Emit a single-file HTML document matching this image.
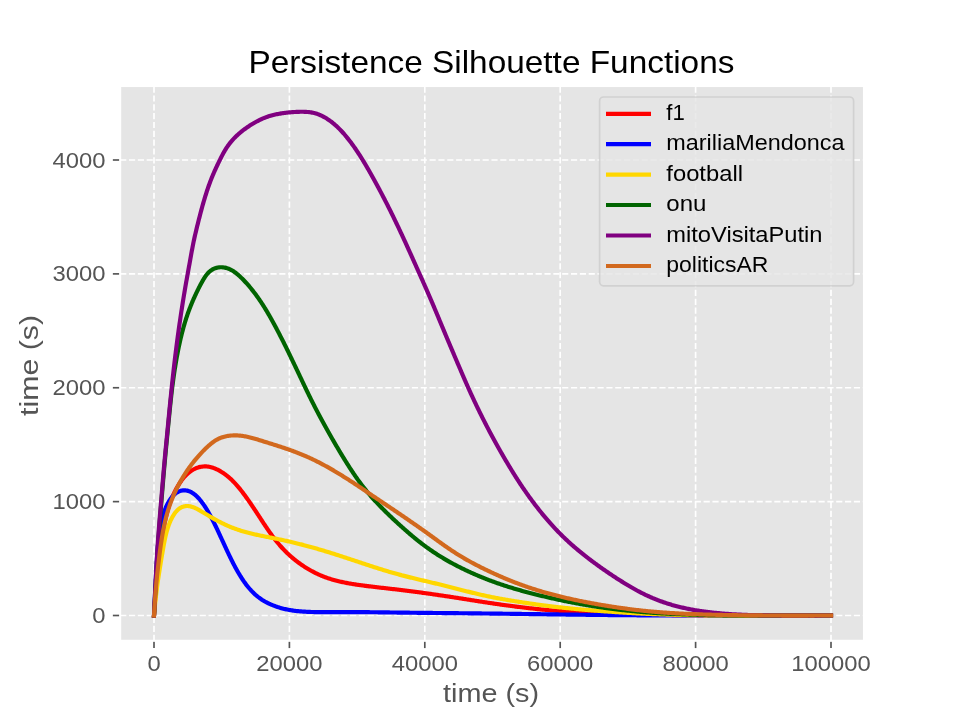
<!DOCTYPE html>
<html><head><meta charset="utf-8"><style>
html,body{margin:0;padding:0;background:#fff;}
svg{display:block;will-change:transform;}
text{font-family:"Liberation Sans", sans-serif;}
</style></head><body>
<svg width="961" height="721" viewBox="0 0 961 721">
<defs><clipPath id="ax"><rect x="120.15" y="86.0" width="743.85" height="554.80"/></clipPath></defs>
<rect x="0" y="0" width="961" height="721" fill="#fff"/>
<rect x="120.15" y="86.0" width="743.85" height="554.80" fill="#E5E5E5"/>

<g stroke="#fff" stroke-width="1.67" stroke-dasharray="6.17 2.67" clip-path="url(#ax)"><line x1="154.00" y1="640.8" x2="154.00" y2="86.0"/><line x1="289.40" y1="640.8" x2="289.40" y2="86.0"/><line x1="424.80" y1="640.8" x2="424.80" y2="86.0"/><line x1="560.20" y1="640.8" x2="560.20" y2="86.0"/><line x1="695.60" y1="640.8" x2="695.60" y2="86.0"/><line x1="831.00" y1="640.8" x2="831.00" y2="86.0"/><line x1="120.15" y1="615.50" x2="864.0" y2="615.50"/><line x1="120.15" y1="501.62" x2="864.0" y2="501.62"/><line x1="120.15" y1="387.75" x2="864.0" y2="387.75"/><line x1="120.15" y1="273.88" x2="864.0" y2="273.88"/><line x1="120.15" y1="160.00" x2="864.0" y2="160.00"/></g>
<g clip-path="url(#ax)" fill="none" stroke-width="4.17" stroke-linejoin="round" stroke-linecap="square">
<path stroke="#FF0000" d="M154.00,615.50 L154.07,614.50 L154.14,613.51 L154.21,612.51 L154.28,611.52 L154.35,610.52 L154.42,609.52 L154.49,608.53 L154.56,607.53 L154.63,606.54 L154.70,605.54 L154.77,604.54 L154.85,603.55 L154.92,602.55 L154.99,601.56 L155.07,600.56 L155.15,599.57 L155.22,598.57 L155.30,597.57 L155.38,596.58 L155.46,595.58 L155.54,594.59 L155.63,593.59 L155.71,592.60 L155.79,591.60 L155.88,590.61 L155.97,589.61 L156.06,588.62 L156.15,587.62 L156.24,586.63 L156.33,585.63 L156.42,584.64 L156.52,583.64 L156.61,582.65 L156.71,581.65 L156.81,580.66 L156.91,579.66 L157.01,578.67 L157.11,577.68 L157.21,576.68 L157.31,575.69 L157.42,574.69 L157.52,573.70 L157.63,572.70 L157.74,571.71 L157.85,570.71 L157.95,569.72 L158.06,568.72 L158.18,567.73 L158.29,566.73 L158.40,565.74 L158.51,564.74 L158.63,563.75 L158.74,562.75 L158.86,561.76 L158.97,560.76 L159.09,559.77 L159.21,558.77 L159.33,557.78 L159.45,556.78 L159.57,555.78 L159.69,554.79 L159.82,553.79 L159.94,552.80 L160.06,551.80 L160.19,550.81 L160.32,549.81 L160.45,548.81 L160.58,547.82 L160.71,546.82 L160.84,545.83 L160.97,544.83 L161.11,543.83 L161.25,542.84 L161.39,541.84 L161.53,540.85 L161.67,539.85 L161.82,538.86 L161.96,537.87 L162.11,536.87 L162.27,535.88 L162.42,534.89 L162.58,533.89 L162.74,532.90 L162.91,531.91 L163.07,530.92 L163.25,529.93 L163.42,528.94 L163.60,527.95 L163.78,526.96 L163.97,525.97 L164.16,524.99 L164.35,524.00 L164.55,523.02 L164.76,522.04 L164.97,521.05 L165.18,520.07 L165.40,519.10 L165.63,518.12 L165.86,517.14 L166.09,516.17 L166.33,515.20 L166.58,514.23 L166.84,513.26 L167.10,512.29 L167.36,511.33 L167.64,510.36 L167.92,509.40 L168.21,508.45 L168.50,507.49 L168.80,506.54 L169.11,505.59 L169.43,504.64 L169.75,503.70 L170.09,502.76 L170.43,501.82 L170.78,500.88 L171.13,499.95 L171.50,499.02 L171.87,498.10 L172.25,497.18 L172.65,496.26 L173.05,495.35 L173.46,494.44 L173.88,493.54 L174.31,492.64 L174.75,491.75 L175.19,490.86 L175.65,489.98 L176.12,489.10 L176.60,488.23 L177.10,487.36 L177.60,486.50 L178.11,485.64 L178.64,484.80 L179.17,483.95 L179.72,483.12 L180.28,482.29 L180.86,481.47 L181.44,480.66 L182.04,479.86 L182.66,479.06 L183.29,478.28 L183.93,477.51 L184.59,476.75 L185.26,476.01 L185.95,475.29 L186.66,474.58 L187.39,473.89 L188.14,473.23 L188.90,472.58 L189.69,471.96 L190.49,471.37 L191.31,470.80 L192.14,470.25 L192.99,469.74 L193.86,469.26 L194.75,468.81 L195.65,468.40 L196.56,468.02 L197.49,467.67 L198.43,467.37 L199.37,467.11 L200.33,466.88 L201.30,466.70 L202.27,466.57 L203.25,466.47 L204.23,466.42 L205.21,466.41 L206.19,466.45 L207.18,466.52 L208.15,466.64 L209.13,466.80 L210.10,467.00 L211.06,467.23 L212.02,467.50 L212.97,467.81 L213.91,468.14 L214.85,468.50 L215.77,468.88 L216.68,469.30 L217.59,469.73 L218.48,470.18 L219.36,470.66 L220.24,471.15 L221.10,471.67 L221.95,472.20 L222.80,472.74 L223.63,473.30 L224.45,473.88 L225.26,474.46 L226.06,475.07 L226.85,475.68 L227.62,476.31 L228.39,476.95 L229.15,477.59 L229.89,478.25 L230.63,478.92 L231.35,479.60 L232.07,480.29 L232.78,480.99 L233.48,481.70 L234.17,482.41 L234.85,483.14 L235.53,483.87 L236.20,484.61 L236.86,485.35 L237.51,486.10 L238.16,486.86 L238.80,487.62 L239.44,488.39 L240.07,489.17 L240.70,489.95 L241.32,490.73 L241.93,491.52 L242.54,492.32 L243.15,493.11 L243.75,493.91 L244.35,494.72 L244.94,495.53 L245.53,496.34 L246.12,497.15 L246.70,497.97 L247.29,498.78 L247.86,499.60 L248.44,500.43 L249.02,501.25 L249.59,502.08 L250.16,502.91 L250.72,503.74 L251.29,504.57 L251.85,505.40 L252.41,506.23 L252.97,507.07 L253.53,507.90 L254.09,508.74 L254.65,509.58 L255.20,510.41 L255.75,511.25 L256.30,512.09 L256.85,512.93 L257.40,513.77 L257.95,514.62 L258.50,515.46 L259.05,516.30 L259.60,517.14 L260.15,517.98 L260.69,518.82 L261.24,519.66 L261.79,520.50 L262.34,521.34 L262.89,522.18 L263.44,523.02 L263.99,523.86 L264.54,524.70 L265.10,525.53 L265.65,526.36 L266.21,527.20 L266.77,528.03 L267.33,528.85 L267.90,529.68 L268.47,530.50 L269.04,531.33 L269.61,532.14 L270.19,532.96 L270.77,533.77 L271.36,534.58 L271.94,535.39 L272.54,536.19 L273.13,536.99 L273.73,537.79 L274.34,538.58 L274.95,539.37 L275.56,540.15 L276.18,540.93 L276.81,541.71 L277.43,542.48 L278.07,543.25 L278.71,544.01 L279.35,544.76 L280.00,545.52 L280.66,546.26 L281.32,547.00 L281.99,547.74 L282.66,548.47 L283.34,549.19 L284.02,549.91 L284.72,550.63 L285.41,551.33 L286.11,552.03 L286.82,552.73 L287.54,553.42 L288.26,554.10 L288.99,554.77 L289.72,555.44 L290.46,556.11 L291.21,556.76 L291.96,557.41 L292.72,558.06 L293.48,558.69 L294.25,559.32 L295.02,559.95 L295.80,560.56 L296.59,561.17 L297.38,561.78 L298.18,562.37 L298.98,562.96 L299.79,563.55 L300.61,564.13 L301.43,564.70 L302.25,565.26 L303.08,565.82 L303.91,566.37 L304.75,566.91 L305.59,567.45 L306.44,567.98 L307.29,568.50 L308.14,569.01 L309.01,569.52 L309.87,570.02 L310.74,570.51 L311.62,570.99 L312.50,571.46 L313.38,571.93 L314.27,572.39 L315.16,572.84 L316.06,573.28 L316.96,573.71 L317.86,574.13 L318.77,574.54 L319.68,574.95 L320.60,575.34 L321.52,575.73 L322.44,576.11 L323.37,576.48 L324.30,576.84 L325.23,577.19 L326.17,577.54 L327.11,577.87 L328.05,578.20 L329.00,578.51 L329.95,578.82 L330.90,579.12 L331.86,579.41 L332.81,579.69 L333.77,579.97 L334.73,580.23 L335.70,580.49 L336.66,580.75 L337.63,580.99 L338.60,581.23 L339.57,581.46 L340.54,581.68 L341.51,581.90 L342.49,582.12 L343.46,582.32 L344.44,582.52 L345.42,582.72 L346.40,582.91 L347.38,583.10 L348.36,583.28 L349.34,583.46 L350.32,583.63 L351.31,583.80 L352.29,583.96 L353.28,584.12 L354.27,584.28 L355.25,584.43 L356.24,584.58 L357.23,584.73 L358.22,584.87 L359.21,585.02 L360.20,585.15 L361.19,585.29 L362.18,585.42 L363.17,585.56 L364.16,585.69 L365.15,585.81 L366.14,585.94 L367.14,586.06 L368.13,586.19 L369.12,586.31 L370.12,586.43 L371.11,586.55 L372.10,586.67 L373.10,586.79 L374.09,586.90 L375.08,587.02 L376.08,587.13 L377.07,587.25 L378.07,587.36 L379.06,587.48 L380.05,587.59 L381.05,587.70 L382.04,587.82 L383.04,587.93 L384.03,588.04 L385.02,588.16 L386.02,588.27 L387.01,588.38 L388.01,588.50 L389.00,588.61 L389.99,588.72 L390.99,588.84 L391.98,588.95 L392.98,589.07 L393.97,589.18 L394.96,589.30 L395.96,589.42 L396.95,589.53 L397.94,589.65 L398.93,589.77 L399.93,589.89 L400.92,590.01 L401.91,590.13 L402.91,590.25 L403.90,590.37 L404.89,590.49 L405.88,590.61 L406.87,590.74 L407.87,590.86 L408.86,590.98 L409.85,591.11 L410.84,591.24 L411.83,591.36 L412.82,591.49 L413.81,591.62 L414.80,591.75 L415.79,591.88 L416.79,592.01 L417.78,592.14 L418.77,592.28 L419.76,592.41 L420.75,592.54 L421.74,592.68 L422.73,592.81 L423.72,592.95 L424.71,593.09 L425.69,593.23 L426.68,593.36 L427.67,593.50 L428.66,593.64 L429.65,593.78 L430.64,593.92 L431.63,594.06 L432.62,594.21 L433.61,594.35 L434.60,594.49 L435.58,594.63 L436.57,594.78 L437.56,594.92 L438.55,595.07 L439.54,595.21 L440.53,595.36 L441.51,595.50 L442.50,595.65 L443.49,595.79 L444.48,595.94 L445.47,596.09 L446.45,596.24 L447.44,596.39 L448.43,596.53 L449.42,596.68 L450.40,596.83 L451.39,596.98 L452.38,597.13 L453.37,597.29 L454.35,597.44 L455.34,597.59 L456.33,597.74 L457.32,597.90 L458.30,598.05 L459.29,598.21 L460.28,598.36 L461.26,598.52 L462.25,598.67 L463.24,598.83 L464.22,598.98 L465.21,599.14 L466.20,599.30 L467.18,599.45 L468.17,599.61 L469.16,599.77 L470.14,599.92 L471.13,600.08 L472.12,600.24 L473.10,600.39 L474.09,600.55 L475.08,600.71 L476.06,600.86 L477.05,601.02 L478.04,601.17 L479.02,601.33 L480.01,601.48 L481.00,601.64 L481.98,601.79 L482.97,601.94 L483.96,602.09 L484.95,602.25 L485.93,602.40 L486.92,602.55 L487.91,602.70 L488.90,602.85 L489.88,602.99 L490.87,603.14 L491.86,603.29 L492.85,603.43 L493.84,603.58 L494.83,603.72 L495.82,603.87 L496.80,604.01 L497.79,604.15 L498.78,604.29 L499.77,604.43 L500.76,604.57 L501.75,604.71 L502.74,604.85 L503.73,604.98 L504.72,605.12 L505.71,605.26 L506.70,605.39 L507.69,605.52 L508.68,605.65 L509.67,605.79 L510.66,605.92 L511.65,606.05 L512.64,606.18 L513.63,606.30 L514.62,606.43 L515.61,606.56 L516.60,606.68 L517.60,606.81 L518.59,606.93 L519.58,607.05 L520.57,607.17 L521.56,607.29 L522.55,607.41 L523.55,607.53 L524.54,607.65 L525.53,607.76 L526.52,607.88 L527.52,607.99 L528.51,608.11 L529.50,608.22 L530.49,608.33 L531.49,608.44 L532.48,608.55 L533.47,608.66 L534.47,608.76 L535.46,608.87 L536.45,608.97 L537.45,609.08 L538.44,609.18 L539.43,609.28 L540.43,609.38 L541.42,609.48 L542.42,609.57 L543.41,609.67 L544.40,609.77 L545.40,609.86 L546.39,609.95 L547.39,610.04 L548.38,610.13 L549.38,610.22 L550.37,610.31 L551.37,610.40 L552.36,610.48 L553.36,610.56 L554.36,610.65 L555.35,610.73 L556.35,610.81 L557.34,610.89 L558.34,610.96 L559.33,611.04 L560.33,611.11 L561.33,611.19 L562.32,611.26 L563.32,611.33 L564.32,611.40 L565.31,611.47 L566.31,611.54 L567.31,611.61 L568.30,611.67 L569.30,611.73 L570.30,611.80 L571.29,611.86 L572.29,611.92 L573.29,611.98 L574.28,612.04 L575.28,612.10 L576.28,612.16 L577.28,612.21 L578.27,612.27 L579.27,612.32 L580.27,612.38 L581.27,612.43 L582.26,612.48 L583.26,612.53 L584.26,612.58 L585.26,612.63 L586.26,612.68 L587.25,612.73 L588.25,612.77 L589.25,612.82 L590.25,612.87 L591.25,612.91 L592.24,612.95 L593.24,613.00 L594.24,613.04 L595.24,613.08 L596.24,613.13 L597.24,613.17 L598.23,613.21 L599.23,613.25 L600.23,613.29 L601.23,613.33 L602.23,613.37 L603.23,613.40 L604.22,613.44 L605.22,613.48 L606.22,613.52 L607.22,613.55 L608.22,613.59 L609.22,613.62 L610.22,613.66 L611.21,613.69 L612.21,613.73 L613.21,613.76 L614.21,613.79 L615.21,613.82 L616.21,613.86 L617.21,613.89 L618.20,613.92 L619.20,613.95 L620.20,613.98 L621.20,614.01 L622.20,614.04 L623.20,614.07 L624.20,614.10 L625.20,614.13 L626.19,614.15 L627.19,614.18 L628.19,614.21 L629.19,614.23 L630.19,614.26 L631.19,614.29 L632.19,614.31 L633.19,614.34 L634.19,614.36 L635.18,614.39 L636.18,614.41 L637.18,614.43 L638.18,614.46 L639.18,614.48 L640.18,614.50 L641.18,614.52 L642.18,614.55 L643.18,614.57 L644.17,614.59 L645.17,614.61 L646.17,614.63 L647.17,614.65 L648.17,614.67 L649.17,614.69 L650.17,614.71 L651.17,614.72 L652.17,614.74 L653.16,614.76 L654.16,614.78 L655.16,614.80 L656.16,614.81 L657.16,614.83 L658.16,614.85 L659.16,614.86 L660.16,614.88 L661.16,614.89 L662.16,614.91 L663.15,614.92 L664.15,614.94 L665.15,614.95 L666.15,614.97 L667.15,614.98 L668.15,614.99 L669.15,615.01 L670.15,615.02 L671.15,615.03 L672.15,615.05 L673.14,615.06 L674.14,615.07 L675.14,615.08 L676.14,615.09 L677.14,615.11 L678.14,615.12 L679.14,615.13 L680.14,615.14 L681.14,615.15 L682.14,615.16 L683.14,615.17 L684.13,615.18 L685.13,615.19 L686.13,615.20 L687.13,615.21 L688.13,615.22 L689.13,615.23 L690.13,615.24 L691.13,615.24 L692.13,615.25 L693.13,615.26 L694.12,615.27 L695.12,615.28 L696.12,615.28 L697.12,615.29 L698.12,615.30 L699.12,615.31 L700.12,615.32 L701.12,615.32 L702.12,615.33 L703.12,615.34 L704.12,615.34 L705.11,615.35 L706.11,615.36 L707.11,615.36 L708.11,615.37 L709.11,615.38 L710.11,615.38 L711.11,615.39 L712.11,615.39 L713.11,615.40 L714.11,615.40 L715.11,615.41 L716.10,615.41 L717.10,615.42 L718.10,615.42 L719.10,615.43 L720.10,615.43 L721.10,615.44 L722.10,615.44 L723.10,615.45 L724.10,615.45 L725.10,615.46 L726.10,615.46 L727.09,615.47 L728.09,615.47 L729.09,615.47 L730.09,615.48 L731.09,615.48 L732.09,615.48 L733.09,615.49 L734.09,615.49 L735.09,615.49 L736.09,615.50 L737.09,615.50 L738.08,615.50 L739.08,615.51 L740.08,615.51 L741.08,615.51 L742.08,615.51 L743.08,615.52 L744.08,615.52 L745.08,615.52 L746.08,615.52 L747.08,615.53 L748.08,615.53 L749.07,615.53 L750.07,615.53 L751.07,615.53 L752.07,615.54 L753.07,615.54 L754.07,615.54 L755.07,615.54 L756.07,615.54 L757.07,615.54 L758.07,615.54 L759.07,615.55 L760.06,615.55 L761.06,615.55 L762.06,615.55 L763.06,615.55 L764.06,615.55 L765.06,615.55 L766.06,615.55 L767.06,615.55 L768.06,615.55 L769.06,615.55 L770.06,615.55 L771.05,615.55 L772.05,615.55 L773.05,615.55 L774.05,615.55 L775.05,615.55 L776.05,615.55 L777.05,615.55 L778.05,615.55 L779.05,615.55 L780.05,615.55 L781.05,615.55 L782.04,615.55 L783.04,615.55 L784.04,615.55 L785.04,615.55 L786.04,615.55 L787.04,615.55 L788.04,615.55 L789.04,615.55 L790.04,615.55 L791.04,615.55 L792.04,615.55 L793.03,615.55 L794.03,615.55 L795.03,615.55 L796.03,615.55 L797.03,615.54 L798.03,615.54 L799.03,615.54 L800.03,615.54 L801.03,615.54 L802.03,615.54 L803.03,615.54 L804.02,615.54 L805.02,615.54 L806.02,615.54 L807.02,615.53 L808.02,615.53 L809.02,615.53 L810.02,615.53 L811.02,615.53 L812.02,615.53 L813.02,615.53 L814.02,615.52 L815.01,615.52 L816.01,615.52 L817.01,615.52 L818.01,615.52 L819.01,615.52 L820.01,615.52 L821.01,615.51 L822.01,615.51 L823.01,615.51 L824.01,615.51 L825.01,615.51 L826.00,615.51 L827.00,615.51 L828.00,615.50 L829.00,615.50 L830.00,615.50 L831.00,615.50"/>
<path stroke="#0000FF" d="M154.00,615.50 L154.05,614.50 L154.10,613.50 L154.15,612.50 L154.19,611.51 L154.24,610.51 L154.29,609.51 L154.34,608.51 L154.39,607.51 L154.44,606.51 L154.49,605.51 L154.53,604.52 L154.58,603.52 L154.63,602.52 L154.68,601.52 L154.73,600.52 L154.78,599.52 L154.83,598.52 L154.88,597.52 L154.93,596.53 L154.98,595.53 L155.03,594.53 L155.07,593.53 L155.12,592.53 L155.17,591.53 L155.22,590.53 L155.27,589.53 L155.32,588.53 L155.37,587.53 L155.42,586.53 L155.47,585.53 L155.53,584.53 L155.58,583.54 L155.63,582.54 L155.68,581.54 L155.73,580.54 L155.78,579.54 L155.83,578.54 L155.89,577.54 L155.94,576.54 L155.99,575.54 L156.04,574.54 L156.10,573.54 L156.15,572.54 L156.21,571.54 L156.26,570.53 L156.32,569.53 L156.37,568.53 L156.43,567.53 L156.48,566.53 L156.54,565.53 L156.60,564.53 L156.65,563.53 L156.71,562.53 L156.77,561.53 L156.83,560.53 L156.90,559.53 L156.96,558.53 L157.02,557.53 L157.09,556.53 L157.16,555.53 L157.23,554.53 L157.30,553.53 L157.37,552.53 L157.44,551.53 L157.52,550.53 L157.60,549.53 L157.68,548.53 L157.76,547.53 L157.85,546.53 L157.93,545.54 L158.02,544.54 L158.12,543.54 L158.21,542.54 L158.31,541.55 L158.42,540.55 L158.52,539.56 L158.63,538.56 L158.75,537.57 L158.87,536.57 L158.99,535.58 L159.12,534.59 L159.26,533.60 L159.40,532.61 L159.55,531.62 L159.70,530.63 L159.86,529.64 L160.02,528.65 L160.19,527.67 L160.37,526.68 L160.55,525.70 L160.75,524.72 L160.95,523.74 L161.16,522.76 L161.37,521.78 L161.60,520.81 L161.84,519.83 L162.08,518.86 L162.34,517.89 L162.60,516.92 L162.88,515.96 L163.16,514.99 L163.46,514.03 L163.77,513.07 L164.10,512.12 L164.43,511.16 L164.78,510.21 L165.14,509.26 L165.52,508.32 L165.91,507.38 L166.31,506.44 L166.73,505.52 L167.17,504.60 L167.63,503.69 L168.11,502.79 L168.61,501.90 L169.12,501.02 L169.66,500.16 L170.23,499.32 L170.81,498.49 L171.42,497.68 L172.05,496.89 L172.71,496.13 L173.39,495.41 L174.10,494.71 L174.84,494.06 L175.60,493.44 L176.39,492.87 L177.20,492.35 L178.04,491.88 L178.90,491.46 L179.78,491.11 L180.68,490.82 L181.60,490.59 L182.52,490.43 L183.46,490.33 L184.39,490.31 L185.33,490.35 L186.27,490.46 L187.20,490.64 L188.12,490.88 L189.03,491.18 L189.92,491.54 L190.80,491.95 L191.66,492.42 L192.50,492.93 L193.33,493.48 L194.13,494.07 L194.92,494.70 L195.68,495.35 L196.43,496.03 L197.16,496.73 L197.87,497.46 L198.57,498.20 L199.24,498.96 L199.91,499.74 L200.55,500.53 L201.19,501.32 L201.80,502.13 L202.41,502.95 L203.00,503.77 L203.58,504.60 L204.16,505.44 L204.72,506.28 L205.27,507.13 L205.81,507.98 L206.35,508.84 L206.88,509.70 L207.40,510.56 L207.91,511.42 L208.42,512.29 L208.92,513.17 L209.41,514.04 L209.90,514.92 L210.38,515.80 L210.85,516.68 L211.33,517.56 L211.79,518.45 L212.26,519.34 L212.71,520.23 L213.17,521.12 L213.62,522.02 L214.07,522.92 L214.51,523.81 L214.95,524.71 L215.39,525.61 L215.83,526.52 L216.26,527.42 L216.69,528.32 L217.12,529.23 L217.55,530.14 L217.98,531.05 L218.40,531.95 L218.82,532.86 L219.25,533.77 L219.67,534.68 L220.09,535.60 L220.51,536.51 L220.93,537.42 L221.35,538.33 L221.77,539.25 L222.19,540.16 L222.61,541.07 L223.03,541.99 L223.45,542.90 L223.87,543.82 L224.29,544.73 L224.71,545.65 L225.13,546.56 L225.56,547.47 L225.98,548.39 L226.41,549.30 L226.83,550.22 L227.26,551.13 L227.69,552.04 L228.12,552.96 L228.56,553.87 L228.99,554.78 L229.43,555.69 L229.87,556.60 L230.31,557.51 L230.76,558.41 L231.20,559.32 L231.65,560.23 L232.10,561.13 L232.56,562.03 L233.02,562.93 L233.48,563.83 L233.95,564.73 L234.42,565.62 L234.89,566.51 L235.37,567.40 L235.85,568.29 L236.34,569.17 L236.83,570.05 L237.32,570.93 L237.82,571.81 L238.33,572.68 L238.84,573.55 L239.36,574.41 L239.88,575.27 L240.41,576.12 L240.94,576.97 L241.48,577.82 L242.03,578.66 L242.58,579.49 L243.14,580.32 L243.70,581.15 L244.28,581.96 L244.86,582.78 L245.44,583.58 L246.04,584.38 L246.64,585.17 L247.25,585.95 L247.87,586.72 L248.50,587.49 L249.14,588.24 L249.78,588.99 L250.44,589.73 L251.10,590.46 L251.78,591.17 L252.46,591.88 L253.16,592.58 L253.86,593.26 L254.58,593.94 L255.30,594.60 L256.04,595.24 L256.79,595.88 L257.54,596.50 L258.31,597.11 L259.10,597.70 L259.89,598.28 L260.69,598.85 L261.51,599.40 L262.33,599.94 L263.17,600.46 L264.01,600.97 L264.87,601.47 L265.73,601.95 L266.61,602.42 L267.49,602.87 L268.38,603.31 L269.27,603.74 L270.18,604.15 L271.09,604.55 L272.00,604.94 L272.93,605.32 L273.85,605.68 L274.79,606.03 L275.72,606.37 L276.67,606.70 L277.61,607.02 L278.56,607.32 L279.52,607.62 L280.48,607.90 L281.44,608.17 L282.40,608.43 L283.37,608.68 L284.34,608.91 L285.31,609.14 L286.29,609.36 L287.26,609.56 L288.24,609.75 L289.22,609.94 L290.20,610.11 L291.19,610.27 L292.17,610.42 L293.16,610.57 L294.15,610.70 L295.13,610.83 L296.12,610.95 L297.12,611.06 L298.11,611.16 L299.10,611.26 L300.09,611.35 L301.09,611.43 L302.09,611.51 L303.08,611.58 L304.08,611.64 L305.08,611.70 L306.07,611.76 L307.07,611.81 L308.07,611.86 L309.07,611.90 L310.07,611.93 L311.07,611.97 L312.07,612.00 L313.08,612.02 L314.08,612.05 L315.08,612.07 L316.08,612.08 L317.09,612.10 L318.09,612.11 L319.09,612.12 L320.10,612.13 L321.10,612.14 L322.10,612.14 L323.11,612.14 L324.11,612.15 L325.12,612.15 L326.12,612.15 L327.12,612.15 L328.13,612.15 L329.13,612.15 L330.14,612.15 L331.14,612.15 L332.14,612.15 L333.15,612.15 L334.15,612.14 L335.15,612.14 L336.16,612.14 L337.16,612.14 L338.17,612.14 L339.17,612.13 L340.17,612.13 L341.17,612.13 L342.18,612.13 L343.18,612.13 L344.18,612.13 L345.19,612.12 L346.19,612.12 L347.19,612.12 L348.20,612.12 L349.20,612.12 L350.20,612.12 L351.20,612.12 L352.21,612.12 L353.21,612.12 L354.21,612.12 L355.21,612.12 L356.21,612.13 L357.22,612.13 L358.22,612.13 L359.22,612.14 L360.22,612.14 L361.22,612.14 L362.22,612.15 L363.23,612.16 L364.23,612.16 L365.23,612.17 L366.23,612.18 L367.23,612.18 L368.23,612.19 L369.23,612.20 L370.23,612.21 L371.23,612.22 L372.23,612.23 L373.23,612.24 L374.23,612.25 L375.23,612.26 L376.24,612.27 L377.24,612.29 L378.24,612.30 L379.24,612.31 L380.24,612.32 L381.24,612.34 L382.24,612.35 L383.24,612.36 L384.24,612.37 L385.23,612.39 L386.23,612.40 L387.23,612.41 L388.23,612.43 L389.23,612.44 L390.23,612.46 L391.23,612.47 L392.23,612.48 L393.23,612.50 L394.23,612.51 L395.23,612.52 L396.23,612.54 L397.23,612.55 L398.23,612.57 L399.23,612.58 L400.23,612.59 L401.23,612.60 L402.23,612.62 L403.23,612.63 L404.23,612.64 L405.23,612.66 L406.22,612.67 L407.22,612.68 L408.22,612.69 L409.22,612.70 L410.22,612.72 L411.22,612.73 L412.22,612.74 L413.22,612.75 L414.22,612.76 L415.22,612.77 L416.22,612.78 L417.22,612.80 L418.22,612.81 L419.22,612.82 L420.22,612.83 L421.21,612.84 L422.21,612.85 L423.21,612.86 L424.21,612.87 L425.21,612.88 L426.21,612.89 L427.21,612.90 L428.21,612.91 L429.21,612.92 L430.21,612.93 L431.21,612.94 L432.21,612.95 L433.21,612.96 L434.21,612.97 L435.21,612.98 L436.20,612.99 L437.20,613.00 L438.20,613.01 L439.20,613.02 L440.20,613.03 L441.20,613.04 L442.20,613.05 L443.20,613.06 L444.20,613.07 L445.20,613.08 L446.20,613.09 L447.20,613.10 L448.20,613.11 L449.20,613.12 L450.20,613.12 L451.19,613.13 L452.19,613.14 L453.19,613.15 L454.19,613.16 L455.19,613.17 L456.19,613.18 L457.19,613.19 L458.19,613.20 L459.19,613.21 L460.19,613.22 L461.19,613.23 L462.19,613.24 L463.19,613.25 L464.19,613.26 L465.18,613.27 L466.18,613.28 L467.18,613.29 L468.18,613.30 L469.18,613.31 L470.18,613.32 L471.18,613.34 L472.18,613.35 L473.18,613.36 L474.18,613.37 L475.18,613.38 L476.18,613.39 L477.18,613.40 L478.18,613.41 L479.18,613.42 L480.18,613.43 L481.17,613.45 L482.17,613.46 L483.17,613.47 L484.17,613.48 L485.17,613.49 L486.17,613.50 L487.17,613.52 L488.17,613.53 L489.17,613.54 L490.17,613.55 L491.17,613.56 L492.17,613.58 L493.17,613.59 L494.17,613.60 L495.17,613.61 L496.17,613.62 L497.17,613.64 L498.16,613.65 L499.16,613.66 L500.16,613.67 L501.16,613.69 L502.16,613.70 L503.16,613.71 L504.16,613.73 L505.16,613.74 L506.16,613.75 L507.16,613.76 L508.16,613.78 L509.16,613.79 L510.16,613.80 L511.16,613.82 L512.16,613.83 L513.16,613.84 L514.16,613.85 L515.16,613.87 L516.15,613.88 L517.15,613.89 L518.15,613.91 L519.15,613.92 L520.15,613.93 L521.15,613.95 L522.15,613.96 L523.15,613.97 L524.15,613.99 L525.15,614.00 L526.15,614.01 L527.15,614.03 L528.15,614.04 L529.15,614.05 L530.15,614.07 L531.15,614.08 L532.15,614.09 L533.15,614.11 L534.14,614.12 L535.14,614.13 L536.14,614.15 L537.14,614.16 L538.14,614.17 L539.14,614.19 L540.14,614.20 L541.14,614.22 L542.14,614.23 L543.14,614.24 L544.14,614.26 L545.14,614.27 L546.14,614.28 L547.14,614.30 L548.14,614.31 L549.14,614.32 L550.14,614.34 L551.14,614.35 L552.14,614.36 L553.13,614.38 L554.13,614.39 L555.13,614.40 L556.13,614.42 L557.13,614.43 L558.13,614.44 L559.13,614.46 L560.13,614.47 L561.13,614.48 L562.13,614.50 L563.13,614.51 L564.13,614.52 L565.13,614.54 L566.13,614.55 L567.13,614.56 L568.13,614.58 L569.13,614.59 L570.13,614.60 L571.13,614.61 L572.12,614.63 L573.12,614.64 L574.12,614.65 L575.12,614.67 L576.12,614.68 L577.12,614.69 L578.12,614.70 L579.12,614.72 L580.12,614.73 L581.12,614.74 L582.12,614.75 L583.12,614.77 L584.12,614.78 L585.12,614.79 L586.12,614.80 L587.12,614.81 L588.12,614.83 L589.12,614.84 L590.12,614.85 L591.11,614.86 L592.11,614.87 L593.11,614.89 L594.11,614.90 L595.11,614.91 L596.11,614.92 L597.11,614.93 L598.11,614.94 L599.11,614.95 L600.11,614.96 L601.11,614.98 L602.11,614.99 L603.11,615.00 L604.11,615.01 L605.11,615.02 L606.11,615.03 L607.11,615.04 L608.11,615.05 L609.11,615.06 L610.10,615.07 L611.10,615.08 L612.10,615.09 L613.10,615.10 L614.10,615.11 L615.10,615.12 L616.10,615.13 L617.10,615.14 L618.10,615.15 L619.10,615.16 L620.10,615.16 L621.10,615.17 L622.10,615.18 L623.10,615.19 L624.10,615.20 L625.10,615.21 L626.10,615.22 L627.10,615.22 L628.10,615.23 L629.09,615.24 L630.09,615.25 L631.09,615.25 L632.09,615.26 L633.09,615.27 L634.09,615.28 L635.09,615.28 L636.09,615.29 L637.09,615.30 L638.09,615.30 L639.09,615.31 L640.09,615.32 L641.09,615.32 L642.09,615.33 L643.09,615.33 L644.09,615.34 L645.09,615.35 L646.09,615.35 L647.09,615.36 L648.09,615.36 L649.09,615.37 L650.08,615.37 L651.08,615.38 L652.08,615.38 L653.08,615.39 L654.08,615.39 L655.08,615.40 L656.08,615.40 L657.08,615.40 L658.08,615.41 L659.08,615.41 L660.08,615.42 L661.08,615.42 L662.08,615.42 L663.08,615.43 L664.08,615.43 L665.08,615.43 L666.08,615.44 L667.08,615.44 L668.08,615.44 L669.08,615.45 L670.08,615.45 L671.07,615.45 L672.07,615.46 L673.07,615.46 L674.07,615.46 L675.07,615.46 L676.07,615.47 L677.07,615.47 L678.07,615.47 L679.07,615.47 L680.07,615.47 L681.07,615.48 L682.07,615.48 L683.07,615.48 L684.07,615.48 L685.07,615.48 L686.07,615.49 L687.07,615.49 L688.07,615.49 L689.07,615.49 L690.07,615.49 L691.07,615.50 L692.06,615.50 L693.06,615.50 L694.06,615.50 L695.06,615.50 L696.06,615.50 L697.06,615.50 L698.06,615.51 L699.06,615.51 L700.06,615.51 L701.06,615.51 L702.06,615.51 L703.06,615.51 L704.06,615.51 L705.06,615.51 L706.06,615.51 L707.06,615.52 L708.06,615.52 L709.06,615.52 L710.06,615.52 L711.06,615.52 L712.06,615.52 L713.06,615.52 L714.05,615.52 L715.05,615.52 L716.05,615.52 L717.05,615.52 L718.05,615.53 L719.05,615.53 L720.05,615.53 L721.05,615.53 L722.05,615.53 L723.05,615.53 L724.05,615.53 L725.05,615.53 L726.05,615.53 L727.05,615.53 L728.05,615.53 L729.05,615.53 L730.05,615.53 L731.05,615.53 L732.05,615.53 L733.05,615.53 L734.05,615.53 L735.04,615.53 L736.04,615.53 L737.04,615.54 L738.04,615.54 L739.04,615.54 L740.04,615.54 L741.04,615.54 L742.04,615.54 L743.04,615.54 L744.04,615.54 L745.04,615.54 L746.04,615.54 L747.04,615.54 L748.04,615.54 L749.04,615.54 L750.04,615.54 L751.04,615.54 L752.04,615.54 L753.04,615.54 L754.04,615.54 L755.04,615.54 L756.03,615.54 L757.03,615.54 L758.03,615.54 L759.03,615.54 L760.03,615.54 L761.03,615.54 L762.03,615.54 L763.03,615.54 L764.03,615.54 L765.03,615.54 L766.03,615.54 L767.03,615.54 L768.03,615.54 L769.03,615.53 L770.03,615.53 L771.03,615.53 L772.03,615.53 L773.03,615.53 L774.03,615.53 L775.03,615.53 L776.03,615.53 L777.03,615.53 L778.02,615.53 L779.02,615.53 L780.02,615.53 L781.02,615.53 L782.02,615.53 L783.02,615.53 L784.02,615.53 L785.02,615.53 L786.02,615.53 L787.02,615.53 L788.02,615.53 L789.02,615.53 L790.02,615.53 L791.02,615.53 L792.02,615.53 L793.02,615.52 L794.02,615.52 L795.02,615.52 L796.02,615.52 L797.02,615.52 L798.02,615.52 L799.01,615.52 L800.01,615.52 L801.01,615.52 L802.01,615.52 L803.01,615.52 L804.01,615.52 L805.01,615.52 L806.01,615.52 L807.01,615.52 L808.01,615.52 L809.01,615.52 L810.01,615.51 L811.01,615.51 L812.01,615.51 L813.01,615.51 L814.01,615.51 L815.01,615.51 L816.01,615.51 L817.01,615.51 L818.01,615.51 L819.01,615.51 L820.01,615.51 L821.00,615.51 L822.00,615.51 L823.00,615.51 L824.00,615.50 L825.00,615.50 L826.00,615.50 L827.00,615.50 L828.00,615.50 L829.00,615.50 L830.00,615.50 L831.00,615.50"/>
<path stroke="#FFD700" d="M154.00,615.50 L154.09,614.51 L154.19,613.51 L154.28,612.52 L154.38,611.53 L154.47,610.54 L154.57,609.54 L154.66,608.55 L154.76,607.56 L154.86,606.57 L154.96,605.58 L155.05,604.58 L155.15,603.59 L155.26,602.60 L155.36,601.61 L155.46,600.62 L155.57,599.62 L155.68,598.63 L155.78,597.64 L155.89,596.65 L156.01,595.66 L156.12,594.67 L156.24,593.68 L156.35,592.69 L156.47,591.70 L156.60,590.71 L156.72,589.71 L156.84,588.72 L156.97,587.73 L157.10,586.74 L157.23,585.75 L157.37,584.76 L157.50,583.78 L157.64,582.79 L157.78,581.80 L157.92,580.81 L158.06,579.82 L158.21,578.83 L158.35,577.84 L158.50,576.85 L158.65,575.86 L158.80,574.87 L158.95,573.88 L159.11,572.89 L159.26,571.90 L159.42,570.91 L159.58,569.92 L159.74,568.93 L159.90,567.94 L160.06,566.94 L160.22,565.95 L160.38,564.96 L160.54,563.97 L160.70,562.98 L160.86,561.98 L161.03,560.99 L161.19,560.00 L161.35,559.00 L161.52,558.01 L161.68,557.01 L161.85,556.02 L162.01,555.02 L162.18,554.03 L162.35,553.03 L162.52,552.04 L162.69,551.04 L162.86,550.04 L163.03,549.05 L163.21,548.05 L163.38,547.06 L163.56,546.06 L163.75,545.07 L163.93,544.08 L164.12,543.08 L164.31,542.09 L164.51,541.10 L164.71,540.11 L164.91,539.12 L165.12,538.13 L165.34,537.15 L165.56,536.16 L165.79,535.18 L166.02,534.20 L166.27,533.23 L166.52,532.26 L166.78,531.29 L167.06,530.32 L167.34,529.36 L167.63,528.40 L167.94,527.44 L168.26,526.49 L168.59,525.55 L168.93,524.61 L169.29,523.67 L169.66,522.75 L170.05,521.82 L170.46,520.91 L170.88,520.00 L171.32,519.10 L171.77,518.21 L172.25,517.32 L172.74,516.44 L173.26,515.58 L173.79,514.72 L174.35,513.89 L174.93,513.08 L175.54,512.29 L176.17,511.53 L176.83,510.80 L177.51,510.11 L178.23,509.47 L178.97,508.86 L179.74,508.30 L180.54,507.80 L181.36,507.35 L182.21,506.96 L183.08,506.64 L183.96,506.38 L184.87,506.19 L185.79,506.06 L186.72,506.00 L187.66,506.01 L188.60,506.08 L189.54,506.22 L190.49,506.40 L191.43,506.64 L192.36,506.93 L193.29,507.26 L194.22,507.63 L195.14,508.03 L196.05,508.46 L196.95,508.92 L197.85,509.39 L198.74,509.88 L199.63,510.38 L200.51,510.90 L201.39,511.42 L202.27,511.94 L203.14,512.46 L204.02,512.98 L204.89,513.51 L205.76,514.03 L206.63,514.55 L207.50,515.06 L208.37,515.58 L209.24,516.09 L210.11,516.60 L210.98,517.11 L211.85,517.61 L212.72,518.11 L213.59,518.61 L214.47,519.10 L215.34,519.59 L216.22,520.07 L217.09,520.54 L217.97,521.02 L218.85,521.48 L219.74,521.94 L220.62,522.40 L221.51,522.85 L222.40,523.29 L223.29,523.72 L224.18,524.15 L225.08,524.58 L225.98,524.99 L226.88,525.40 L227.78,525.80 L228.69,526.19 L229.60,526.58 L230.51,526.96 L231.43,527.33 L232.34,527.69 L233.26,528.05 L234.19,528.40 L235.11,528.74 L236.04,529.07 L236.98,529.40 L237.91,529.72 L238.85,530.03 L239.79,530.34 L240.73,530.64 L241.68,530.93 L242.62,531.21 L243.57,531.49 L244.52,531.76 L245.48,532.03 L246.43,532.29 L247.39,532.55 L248.35,532.80 L249.31,533.04 L250.28,533.28 L251.24,533.52 L252.21,533.75 L253.18,533.98 L254.15,534.20 L255.12,534.42 L256.09,534.63 L257.06,534.85 L258.03,535.06 L259.01,535.27 L259.98,535.47 L260.96,535.68 L261.94,535.88 L262.91,536.08 L263.89,536.27 L264.87,536.47 L265.85,536.67 L266.83,536.86 L267.81,537.06 L268.79,537.25 L269.77,537.45 L270.75,537.64 L271.73,537.84 L272.71,538.04 L273.69,538.23 L274.67,538.43 L275.65,538.63 L276.63,538.83 L277.61,539.03 L278.59,539.23 L279.57,539.44 L280.55,539.64 L281.53,539.85 L282.50,540.06 L283.48,540.27 L284.46,540.48 L285.44,540.70 L286.41,540.91 L287.39,541.13 L288.36,541.35 L289.34,541.57 L290.31,541.79 L291.29,542.02 L292.26,542.25 L293.23,542.48 L294.21,542.71 L295.18,542.95 L296.15,543.18 L297.12,543.42 L298.09,543.66 L299.06,543.90 L300.03,544.15 L301.00,544.39 L301.96,544.64 L302.93,544.89 L303.90,545.15 L304.86,545.40 L305.83,545.66 L306.79,545.91 L307.76,546.17 L308.72,546.44 L309.69,546.70 L310.65,546.96 L311.61,547.23 L312.58,547.50 L313.54,547.77 L314.50,548.04 L315.46,548.32 L316.42,548.59 L317.38,548.87 L318.34,549.15 L319.30,549.43 L320.26,549.71 L321.21,550.00 L322.17,550.28 L323.13,550.57 L324.09,550.86 L325.04,551.15 L326.00,551.44 L326.95,551.73 L327.91,552.02 L328.86,552.32 L329.82,552.61 L330.77,552.91 L331.72,553.21 L332.68,553.51 L333.63,553.81 L334.58,554.11 L335.53,554.42 L336.49,554.72 L337.44,555.02 L338.39,555.33 L339.34,555.64 L340.29,555.94 L341.24,556.25 L342.19,556.56 L343.14,556.87 L344.09,557.18 L345.04,557.49 L345.99,557.80 L346.94,558.11 L347.89,558.42 L348.84,558.74 L349.79,559.05 L350.74,559.37 L351.69,559.68 L352.63,559.99 L353.58,560.31 L354.53,560.63 L355.48,560.94 L356.43,561.26 L357.38,561.57 L358.32,561.89 L359.27,562.20 L360.22,562.52 L361.17,562.84 L362.12,563.15 L363.06,563.47 L364.01,563.78 L364.96,564.10 L365.91,564.41 L366.86,564.72 L367.81,565.04 L368.75,565.35 L369.70,565.66 L370.65,565.97 L371.60,566.28 L372.55,566.59 L373.50,566.89 L374.45,567.20 L375.40,567.51 L376.36,567.81 L377.31,568.11 L378.26,568.42 L379.21,568.72 L380.16,569.01 L381.12,569.31 L382.07,569.61 L383.02,569.90 L383.98,570.19 L384.93,570.48 L385.89,570.77 L386.85,571.06 L387.80,571.35 L388.76,571.63 L389.72,571.91 L390.67,572.19 L391.63,572.47 L392.59,572.74 L393.55,573.02 L394.51,573.29 L395.47,573.56 L396.43,573.82 L397.40,574.09 L398.36,574.35 L399.32,574.62 L400.28,574.88 L401.25,575.13 L402.21,575.39 L403.18,575.64 L404.14,575.89 L405.11,576.14 L406.08,576.39 L407.04,576.64 L408.01,576.88 L408.98,577.13 L409.95,577.37 L410.91,577.61 L411.88,577.85 L412.85,578.08 L413.82,578.32 L414.79,578.55 L415.76,578.79 L416.73,579.02 L417.70,579.25 L418.67,579.48 L419.65,579.71 L420.62,579.94 L421.59,580.17 L422.56,580.39 L423.53,580.62 L424.50,580.85 L425.48,581.08 L426.45,581.31 L427.42,581.54 L428.39,581.76 L429.36,581.99 L430.33,582.22 L431.30,582.45 L432.28,582.68 L433.25,582.92 L434.22,583.15 L435.19,583.38 L436.16,583.61 L437.13,583.85 L438.10,584.08 L439.07,584.32 L440.04,584.55 L441.01,584.79 L441.98,585.03 L442.95,585.27 L443.92,585.51 L444.89,585.75 L445.86,585.99 L446.82,586.23 L447.79,586.47 L448.76,586.71 L449.73,586.96 L450.70,587.20 L451.66,587.45 L452.63,587.69 L453.60,587.94 L454.57,588.18 L455.53,588.43 L456.50,588.68 L457.47,588.92 L458.43,589.17 L459.40,589.42 L460.37,589.67 L461.33,589.92 L462.30,590.16 L463.27,590.41 L464.23,590.66 L465.20,590.91 L466.17,591.15 L467.13,591.40 L468.10,591.64 L469.07,591.89 L470.03,592.13 L471.00,592.37 L471.97,592.62 L472.94,592.85 L473.91,593.09 L474.88,593.33 L475.84,593.56 L476.81,593.80 L477.78,594.03 L478.75,594.25 L479.73,594.48 L480.70,594.70 L481.67,594.92 L482.64,595.14 L483.62,595.36 L484.59,595.57 L485.56,595.78 L486.54,595.99 L487.51,596.20 L488.49,596.40 L489.47,596.61 L490.44,596.81 L491.42,597.00 L492.40,597.20 L493.38,597.39 L494.36,597.58 L495.33,597.77 L496.31,597.96 L497.29,598.15 L498.27,598.33 L499.26,598.51 L500.24,598.69 L501.22,598.87 L502.20,599.05 L503.18,599.22 L504.17,599.40 L505.15,599.57 L506.13,599.74 L507.12,599.91 L508.10,600.08 L509.09,600.24 L510.07,600.41 L511.06,600.57 L512.04,600.73 L513.03,600.89 L514.01,601.05 L515.00,601.21 L515.99,601.37 L516.97,601.53 L517.96,601.68 L518.95,601.84 L519.93,601.99 L520.92,602.14 L521.91,602.29 L522.90,602.44 L523.88,602.59 L524.87,602.74 L525.86,602.89 L526.85,603.03 L527.84,603.18 L528.83,603.32 L529.81,603.47 L530.80,603.61 L531.79,603.75 L532.78,603.90 L533.77,604.04 L534.76,604.18 L535.75,604.31 L536.74,604.45 L537.73,604.59 L538.72,604.73 L539.71,604.86 L540.70,605.00 L541.69,605.13 L542.68,605.26 L543.67,605.39 L544.66,605.52 L545.65,605.65 L546.64,605.78 L547.63,605.90 L548.63,606.03 L549.62,606.15 L550.61,606.28 L551.60,606.40 L552.59,606.52 L553.58,606.64 L554.58,606.76 L555.57,606.88 L556.56,606.99 L557.55,607.11 L558.54,607.22 L559.54,607.33 L560.53,607.44 L561.52,607.55 L562.52,607.66 L563.51,607.77 L564.50,607.87 L565.50,607.98 L566.49,608.08 L567.48,608.18 L568.48,608.28 L569.47,608.38 L570.47,608.48 L571.46,608.58 L572.45,608.68 L573.45,608.77 L574.44,608.87 L575.44,608.96 L576.43,609.05 L577.43,609.14 L578.42,609.23 L579.42,609.32 L580.41,609.41 L581.41,609.49 L582.40,609.58 L583.40,609.66 L584.39,609.75 L585.39,609.83 L586.39,609.91 L587.38,610.00 L588.38,610.08 L589.37,610.16 L590.37,610.24 L591.36,610.32 L592.36,610.40 L593.36,610.47 L594.35,610.55 L595.35,610.63 L596.34,610.71 L597.34,610.78 L598.34,610.86 L599.33,610.93 L600.33,611.00 L601.33,611.08 L602.32,611.15 L603.32,611.22 L604.32,611.30 L605.31,611.37 L606.31,611.44 L607.31,611.51 L608.30,611.58 L609.30,611.65 L610.30,611.72 L611.29,611.79 L612.29,611.86 L613.29,611.93 L614.28,611.99 L615.28,612.06 L616.28,612.13 L617.27,612.19 L618.27,612.26 L619.27,612.32 L620.26,612.39 L621.26,612.45 L622.26,612.51 L623.26,612.57 L624.25,612.63 L625.25,612.69 L626.25,612.75 L627.24,612.81 L628.24,612.87 L629.24,612.93 L630.24,612.99 L631.23,613.04 L632.23,613.10 L633.23,613.15 L634.23,613.21 L635.22,613.26 L636.22,613.31 L637.22,613.37 L638.22,613.42 L639.21,613.47 L640.21,613.52 L641.21,613.57 L642.21,613.61 L643.21,613.66 L644.20,613.71 L645.20,613.75 L646.20,613.80 L647.20,613.84 L648.20,613.89 L649.19,613.93 L650.19,613.97 L651.19,614.01 L652.19,614.05 L653.19,614.09 L654.18,614.13 L655.18,614.17 L656.18,614.21 L657.18,614.25 L658.18,614.28 L659.18,614.32 L660.17,614.35 L661.17,614.39 L662.17,614.42 L663.17,614.46 L664.17,614.49 L665.17,614.52 L666.16,614.55 L667.16,614.58 L668.16,614.61 L669.16,614.64 L670.16,614.67 L671.16,614.69 L672.16,614.72 L673.15,614.75 L674.15,614.77 L675.15,614.80 L676.15,614.82 L677.15,614.85 L678.15,614.87 L679.15,614.89 L680.15,614.91 L681.14,614.94 L682.14,614.96 L683.14,614.98 L684.14,615.00 L685.14,615.02 L686.14,615.04 L687.14,615.05 L688.14,615.07 L689.13,615.09 L690.13,615.11 L691.13,615.12 L692.13,615.14 L693.13,615.15 L694.13,615.17 L695.13,615.18 L696.13,615.20 L697.13,615.21 L698.13,615.23 L699.12,615.24 L700.12,615.25 L701.12,615.26 L702.12,615.28 L703.12,615.29 L704.12,615.30 L705.12,615.31 L706.12,615.32 L707.12,615.33 L708.12,615.34 L709.11,615.35 L710.11,615.36 L711.11,615.37 L712.11,615.38 L713.11,615.39 L714.11,615.39 L715.11,615.40 L716.11,615.41 L717.11,615.42 L718.11,615.43 L719.11,615.43 L720.10,615.44 L721.10,615.45 L722.10,615.45 L723.10,615.46 L724.10,615.47 L725.10,615.47 L726.10,615.48 L727.10,615.49 L728.10,615.49 L729.10,615.50 L730.10,615.50 L731.09,615.51 L732.09,615.51 L733.09,615.52 L734.09,615.52 L735.09,615.53 L736.09,615.53 L737.09,615.54 L738.09,615.54 L739.09,615.55 L740.09,615.55 L741.09,615.55 L742.08,615.56 L743.08,615.56 L744.08,615.56 L745.08,615.57 L746.08,615.57 L747.08,615.57 L748.08,615.58 L749.08,615.58 L750.08,615.58 L751.08,615.58 L752.07,615.59 L753.07,615.59 L754.07,615.59 L755.07,615.59 L756.07,615.59 L757.07,615.60 L758.07,615.60 L759.07,615.60 L760.07,615.60 L761.07,615.60 L762.07,615.60 L763.06,615.60 L764.06,615.60 L765.06,615.60 L766.06,615.61 L767.06,615.61 L768.06,615.61 L769.06,615.61 L770.06,615.61 L771.06,615.61 L772.06,615.61 L773.06,615.61 L774.05,615.61 L775.05,615.61 L776.05,615.61 L777.05,615.61 L778.05,615.61 L779.05,615.61 L780.05,615.60 L781.05,615.60 L782.05,615.60 L783.05,615.60 L784.04,615.60 L785.04,615.60 L786.04,615.60 L787.04,615.60 L788.04,615.60 L789.04,615.60 L790.04,615.59 L791.04,615.59 L792.04,615.59 L793.04,615.59 L794.04,615.59 L795.03,615.59 L796.03,615.58 L797.03,615.58 L798.03,615.58 L799.03,615.58 L800.03,615.58 L801.03,615.58 L802.03,615.57 L803.03,615.57 L804.03,615.57 L805.02,615.57 L806.02,615.56 L807.02,615.56 L808.02,615.56 L809.02,615.56 L810.02,615.56 L811.02,615.55 L812.02,615.55 L813.02,615.55 L814.02,615.55 L815.02,615.54 L816.01,615.54 L817.01,615.54 L818.01,615.54 L819.01,615.53 L820.01,615.53 L821.01,615.53 L822.01,615.52 L823.01,615.52 L824.01,615.52 L825.01,615.52 L826.00,615.51 L827.00,615.51 L828.00,615.51 L829.00,615.51 L830.00,615.50 L831.00,615.50"/>
<path stroke="#006400" d="M154.00,615.50 L154.06,614.50 L154.11,613.50 L154.17,612.51 L154.22,611.51 L154.28,610.51 L154.33,609.51 L154.39,608.51 L154.44,607.51 L154.50,606.52 L154.55,605.52 L154.61,604.52 L154.66,603.52 L154.72,602.52 L154.77,601.53 L154.83,600.53 L154.88,599.53 L154.94,598.53 L154.99,597.53 L155.05,596.54 L155.10,595.54 L155.15,594.54 L155.21,593.54 L155.26,592.54 L155.32,591.54 L155.37,590.55 L155.43,589.55 L155.48,588.55 L155.54,587.55 L155.59,586.55 L155.64,585.56 L155.70,584.56 L155.75,583.56 L155.81,582.56 L155.86,581.56 L155.91,580.56 L155.97,579.57 L156.02,578.57 L156.08,577.57 L156.13,576.57 L156.19,575.57 L156.24,574.58 L156.30,573.58 L156.35,572.58 L156.41,571.58 L156.46,570.58 L156.52,569.59 L156.58,568.59 L156.63,567.59 L156.69,566.59 L156.75,565.59 L156.80,564.60 L156.86,563.60 L156.92,562.60 L156.98,561.60 L157.04,560.60 L157.10,559.61 L157.16,558.61 L157.22,557.61 L157.28,556.61 L157.34,555.61 L157.40,554.62 L157.46,553.62 L157.53,552.62 L157.59,551.62 L157.65,550.63 L157.72,549.63 L157.78,548.63 L157.85,547.63 L157.91,546.64 L157.98,545.64 L158.05,544.64 L158.11,543.65 L158.18,542.65 L158.25,541.65 L158.32,540.65 L158.39,539.66 L158.46,538.66 L158.53,537.66 L158.60,536.67 L158.68,535.67 L158.75,534.67 L158.82,533.67 L158.90,532.68 L158.97,531.68 L159.05,530.68 L159.12,529.69 L159.20,528.69 L159.27,527.69 L159.35,526.70 L159.43,525.70 L159.51,524.70 L159.59,523.71 L159.66,522.71 L159.74,521.72 L159.82,520.72 L159.90,519.72 L159.98,518.73 L160.06,517.73 L160.15,516.73 L160.23,515.74 L160.31,514.74 L160.39,513.74 L160.47,512.75 L160.55,511.75 L160.64,510.76 L160.72,509.76 L160.80,508.76 L160.88,507.77 L160.97,506.77 L161.05,505.77 L161.13,504.78 L161.21,503.78 L161.30,502.79 L161.38,501.79 L161.46,500.79 L161.54,499.80 L161.63,498.80 L161.71,497.81 L161.79,496.81 L161.87,495.81 L161.96,494.82 L162.04,493.82 L162.12,492.82 L162.20,491.83 L162.29,490.83 L162.37,489.84 L162.45,488.84 L162.53,487.84 L162.62,486.85 L162.70,485.85 L162.78,484.86 L162.87,483.86 L162.95,482.86 L163.03,481.87 L163.12,480.87 L163.20,479.88 L163.29,478.88 L163.37,477.88 L163.45,476.89 L163.54,475.89 L163.62,474.90 L163.71,473.90 L163.80,472.91 L163.88,471.91 L163.97,470.91 L164.05,469.92 L164.14,468.92 L164.23,467.93 L164.32,466.93 L164.40,465.94 L164.49,464.94 L164.58,463.95 L164.67,462.95 L164.76,461.96 L164.85,460.96 L164.94,459.97 L165.03,458.97 L165.12,457.97 L165.21,456.98 L165.31,455.98 L165.40,454.99 L165.49,453.99 L165.59,453.00 L165.68,452.01 L165.77,451.01 L165.87,450.02 L165.96,449.02 L166.06,448.03 L166.16,447.03 L166.25,446.04 L166.35,445.04 L166.45,444.05 L166.54,443.05 L166.64,442.06 L166.73,441.06 L166.83,440.07 L166.93,439.07 L167.02,438.08 L167.12,437.09 L167.22,436.09 L167.31,435.10 L167.41,434.10 L167.50,433.11 L167.60,432.11 L167.69,431.12 L167.79,430.12 L167.88,429.13 L167.98,428.13 L168.08,427.14 L168.17,426.14 L168.27,425.15 L168.36,424.15 L168.46,423.16 L168.55,422.16 L168.65,421.17 L168.75,420.17 L168.84,419.18 L168.94,418.18 L169.04,417.19 L169.13,416.19 L169.23,415.20 L169.33,414.20 L169.43,413.21 L169.53,412.21 L169.63,411.22 L169.73,410.22 L169.83,409.23 L169.93,408.23 L170.03,407.24 L170.13,406.24 L170.23,405.25 L170.34,404.25 L170.44,403.26 L170.55,402.26 L170.65,401.27 L170.76,400.28 L170.87,399.28 L170.98,398.29 L171.09,397.29 L171.20,396.30 L171.31,395.31 L171.42,394.31 L171.54,393.32 L171.65,392.33 L171.77,391.33 L171.89,390.34 L172.01,389.35 L172.13,388.36 L172.25,387.36 L172.37,386.37 L172.50,385.38 L172.63,384.39 L172.76,383.40 L172.89,382.41 L173.02,381.41 L173.15,380.42 L173.29,379.43 L173.42,378.44 L173.56,377.45 L173.70,376.46 L173.84,375.47 L173.99,374.48 L174.13,373.49 L174.28,372.50 L174.43,371.52 L174.58,370.53 L174.73,369.54 L174.88,368.55 L175.04,367.56 L175.20,366.58 L175.36,365.59 L175.52,364.60 L175.69,363.62 L175.85,362.63 L176.02,361.65 L176.19,360.66 L176.36,359.67 L176.54,358.69 L176.71,357.71 L176.89,356.72 L177.07,355.74 L177.25,354.76 L177.44,353.77 L177.62,352.79 L177.81,351.81 L178.00,350.83 L178.20,349.85 L178.40,348.87 L178.59,347.89 L178.80,346.91 L179.00,345.93 L179.21,344.96 L179.42,343.98 L179.63,343.00 L179.85,342.03 L180.07,341.06 L180.29,340.08 L180.51,339.11 L180.74,338.14 L180.97,337.17 L181.20,336.20 L181.44,335.23 L181.68,334.26 L181.92,333.29 L182.17,332.33 L182.42,331.36 L182.68,330.40 L182.93,329.43 L183.19,328.47 L183.46,327.51 L183.73,326.55 L184.00,325.59 L184.28,324.64 L184.56,323.68 L184.84,322.73 L185.13,321.77 L185.43,320.82 L185.72,319.87 L186.03,318.92 L186.33,317.97 L186.64,317.03 L186.96,316.08 L187.28,315.14 L187.60,314.20 L187.93,313.26 L188.27,312.32 L188.60,311.38 L188.95,310.45 L189.30,309.52 L189.65,308.58 L190.01,307.65 L190.37,306.72 L190.74,305.80 L191.11,304.87 L191.48,303.95 L191.87,303.02 L192.25,302.10 L192.64,301.18 L193.04,300.26 L193.44,299.35 L193.84,298.43 L194.25,297.52 L194.67,296.60 L195.08,295.69 L195.51,294.78 L195.93,293.87 L196.37,292.96 L196.80,292.05 L197.24,291.15 L197.69,290.24 L198.13,289.34 L198.59,288.43 L199.04,287.53 L199.50,286.63 L199.97,285.73 L200.44,284.83 L200.91,283.93 L201.40,283.03 L201.89,282.14 L202.38,281.26 L202.88,280.37 L203.40,279.49 L203.92,278.63 L204.46,277.77 L205.01,276.92 L205.58,276.10 L206.17,275.29 L206.79,274.50 L207.43,273.74 L208.09,273.01 L208.78,272.30 L209.50,271.64 L210.25,271.01 L211.02,270.42 L211.82,269.87 L212.65,269.37 L213.50,268.93 L214.38,268.53 L215.28,268.18 L216.20,267.89 L217.14,267.65 L218.09,267.46 L219.05,267.33 L220.02,267.25 L220.99,267.22 L221.97,267.25 L222.95,267.33 L223.93,267.45 L224.90,267.63 L225.86,267.84 L226.81,268.11 L227.76,268.42 L228.69,268.77 L229.60,269.15 L230.50,269.58 L231.39,270.04 L232.26,270.53 L233.12,271.05 L233.96,271.60 L234.78,272.18 L235.59,272.78 L236.39,273.39 L237.17,274.03 L237.95,274.68 L238.71,275.34 L239.46,276.02 L240.20,276.71 L240.93,277.40 L241.65,278.11 L242.36,278.82 L243.07,279.54 L243.77,280.26 L244.46,280.99 L245.15,281.73 L245.83,282.47 L246.51,283.21 L247.17,283.96 L247.84,284.71 L248.49,285.47 L249.15,286.23 L249.79,286.99 L250.43,287.76 L251.07,288.54 L251.70,289.31 L252.32,290.09 L252.94,290.88 L253.55,291.67 L254.16,292.46 L254.77,293.25 L255.36,294.05 L255.96,294.85 L256.55,295.66 L257.13,296.47 L257.71,297.28 L258.29,298.10 L258.86,298.92 L259.43,299.74 L259.99,300.56 L260.55,301.39 L261.10,302.22 L261.65,303.05 L262.19,303.89 L262.74,304.73 L263.27,305.57 L263.81,306.41 L264.34,307.25 L264.87,308.10 L265.39,308.95 L265.91,309.81 L266.42,310.66 L266.94,311.52 L267.45,312.38 L267.96,313.24 L268.46,314.10 L268.96,314.96 L269.46,315.83 L269.96,316.70 L270.45,317.57 L270.94,318.44 L271.43,319.31 L271.91,320.18 L272.40,321.06 L272.88,321.93 L273.36,322.81 L273.84,323.69 L274.32,324.57 L274.79,325.45 L275.26,326.33 L275.74,327.21 L276.21,328.09 L276.67,328.98 L277.14,329.86 L277.61,330.75 L278.07,331.63 L278.54,332.52 L279.00,333.41 L279.46,334.30 L279.92,335.18 L280.37,336.07 L280.83,336.96 L281.29,337.85 L281.74,338.74 L282.19,339.64 L282.65,340.53 L283.10,341.42 L283.55,342.31 L284.00,343.21 L284.44,344.10 L284.89,345.00 L285.33,345.89 L285.78,346.79 L286.22,347.69 L286.66,348.58 L287.10,349.48 L287.54,350.38 L287.98,351.28 L288.42,352.18 L288.86,353.08 L289.29,353.98 L289.73,354.88 L290.16,355.78 L290.60,356.68 L291.03,357.58 L291.47,358.48 L291.90,359.38 L292.33,360.28 L292.76,361.18 L293.19,362.08 L293.62,362.99 L294.06,363.89 L294.49,364.79 L294.92,365.69 L295.34,366.60 L295.77,367.50 L296.20,368.40 L296.63,369.30 L297.06,370.21 L297.49,371.11 L297.92,372.01 L298.34,372.92 L298.77,373.82 L299.20,374.72 L299.62,375.63 L300.05,376.53 L300.48,377.44 L300.91,378.34 L301.33,379.24 L301.76,380.15 L302.19,381.05 L302.62,381.95 L303.04,382.86 L303.47,383.76 L303.90,384.66 L304.33,385.56 L304.76,386.46 L305.19,387.37 L305.63,388.27 L306.06,389.17 L306.49,390.07 L306.93,390.97 L307.36,391.87 L307.80,392.77 L308.24,393.67 L308.67,394.56 L309.11,395.46 L309.55,396.36 L310.00,397.25 L310.44,398.15 L310.88,399.05 L311.33,399.94 L311.78,400.83 L312.22,401.73 L312.67,402.62 L313.12,403.51 L313.58,404.40 L314.03,405.29 L314.49,406.18 L314.94,407.07 L315.40,407.96 L315.86,408.85 L316.32,409.73 L316.78,410.62 L317.24,411.51 L317.71,412.39 L318.17,413.28 L318.64,414.16 L319.11,415.04 L319.58,415.92 L320.05,416.81 L320.52,417.69 L320.99,418.57 L321.47,419.45 L321.94,420.33 L322.42,421.21 L322.90,422.08 L323.38,422.96 L323.86,423.84 L324.34,424.72 L324.82,425.59 L325.30,426.47 L325.79,427.34 L326.27,428.22 L326.76,429.09 L327.24,429.96 L327.73,430.84 L328.22,431.71 L328.71,432.58 L329.20,433.45 L329.69,434.32 L330.19,435.19 L330.68,436.06 L331.18,436.93 L331.67,437.80 L332.17,438.67 L332.67,439.53 L333.17,440.40 L333.67,441.27 L334.17,442.13 L334.67,443.00 L335.18,443.86 L335.68,444.73 L336.18,445.59 L336.69,446.45 L337.20,447.32 L337.71,448.18 L338.22,449.04 L338.73,449.90 L339.24,450.76 L339.75,451.62 L340.27,452.47 L340.78,453.33 L341.30,454.19 L341.82,455.04 L342.34,455.90 L342.86,456.75 L343.38,457.61 L343.90,458.46 L344.43,459.31 L344.95,460.16 L345.48,461.01 L346.01,461.86 L346.54,462.71 L347.07,463.55 L347.61,464.40 L348.15,465.24 L348.68,466.08 L349.22,466.92 L349.76,467.76 L350.31,468.60 L350.85,469.44 L351.40,470.27 L351.95,471.11 L352.51,471.94 L353.06,472.77 L353.62,473.60 L354.18,474.42 L354.74,475.25 L355.31,476.07 L355.88,476.89 L356.45,477.71 L357.03,478.52 L357.60,479.33 L358.19,480.14 L358.77,480.95 L359.36,481.76 L359.95,482.56 L360.54,483.36 L361.14,484.16 L361.74,484.95 L362.35,485.74 L362.96,486.53 L363.57,487.32 L364.18,488.10 L364.80,488.88 L365.43,489.66 L366.05,490.43 L366.69,491.21 L367.32,491.97 L367.96,492.74 L368.60,493.50 L369.25,494.26 L369.89,495.02 L370.55,495.77 L371.20,496.52 L371.86,497.27 L372.52,498.02 L373.19,498.76 L373.86,499.50 L374.53,500.24 L375.20,500.97 L375.88,501.71 L376.56,502.44 L377.24,503.16 L377.93,503.89 L378.62,504.61 L379.31,505.33 L380.00,506.05 L380.70,506.77 L381.40,507.48 L382.10,508.20 L382.80,508.91 L383.51,509.61 L384.21,510.32 L384.92,511.03 L385.63,511.73 L386.35,512.43 L387.06,513.13 L387.78,513.83 L388.50,514.53 L389.22,515.22 L389.94,515.91 L390.66,516.60 L391.39,517.29 L392.11,517.98 L392.84,518.67 L393.57,519.35 L394.30,520.04 L395.03,520.72 L395.77,521.40 L396.50,522.08 L397.24,522.76 L397.98,523.44 L398.72,524.11 L399.46,524.78 L400.20,525.46 L400.94,526.13 L401.69,526.80 L402.43,527.46 L403.18,528.13 L403.93,528.79 L404.68,529.46 L405.43,530.12 L406.18,530.78 L406.93,531.44 L407.69,532.09 L408.44,532.75 L409.20,533.40 L409.96,534.05 L410.72,534.70 L411.49,535.34 L412.25,535.99 L413.02,536.63 L413.79,537.27 L414.56,537.90 L415.33,538.54 L416.10,539.17 L416.88,539.79 L417.66,540.42 L418.44,541.04 L419.22,541.66 L420.01,542.27 L420.80,542.89 L421.59,543.50 L422.38,544.10 L423.18,544.70 L423.98,545.30 L424.78,545.90 L425.58,546.49 L426.39,547.08 L427.20,547.66 L428.01,548.24 L428.82,548.82 L429.64,549.39 L430.46,549.96 L431.28,550.53 L432.10,551.09 L432.93,551.65 L433.76,552.21 L434.59,552.76 L435.42,553.31 L436.26,553.85 L437.10,554.39 L437.94,554.93 L438.78,555.46 L439.63,555.99 L440.48,556.52 L441.33,557.04 L442.18,557.56 L443.04,558.08 L443.89,558.59 L444.75,559.10 L445.61,559.60 L446.48,560.10 L447.34,560.60 L448.21,561.09 L449.08,561.58 L449.95,562.07 L450.83,562.55 L451.70,563.03 L452.58,563.51 L453.46,563.98 L454.34,564.46 L455.23,564.92 L456.11,565.39 L457.00,565.85 L457.89,566.30 L458.78,566.76 L459.67,567.21 L460.56,567.66 L461.46,568.10 L462.36,568.54 L463.25,568.98 L464.15,569.42 L465.06,569.85 L465.96,570.28 L466.86,570.70 L467.77,571.13 L468.68,571.55 L469.58,571.97 L470.49,572.38 L471.40,572.79 L472.32,573.20 L473.23,573.61 L474.15,574.01 L475.06,574.41 L475.98,574.81 L476.90,575.21 L477.82,575.60 L478.74,575.99 L479.66,576.37 L480.58,576.76 L481.51,577.14 L482.43,577.52 L483.36,577.89 L484.29,578.26 L485.22,578.63 L486.15,579.00 L487.08,579.36 L488.01,579.72 L488.94,580.08 L489.88,580.43 L490.81,580.79 L491.75,581.14 L492.69,581.48 L493.63,581.82 L494.57,582.16 L495.51,582.50 L496.45,582.84 L497.39,583.17 L498.34,583.50 L499.28,583.82 L500.23,584.15 L501.17,584.47 L502.12,584.79 L503.07,585.10 L504.02,585.42 L504.97,585.73 L505.92,586.03 L506.87,586.34 L507.82,586.64 L508.78,586.94 L509.73,587.24 L510.69,587.53 L511.64,587.83 L512.60,588.12 L513.56,588.40 L514.51,588.69 L515.47,588.97 L516.43,589.25 L517.39,589.53 L518.35,589.81 L519.31,590.08 L520.28,590.36 L521.24,590.63 L522.20,590.89 L523.17,591.16 L524.13,591.42 L525.10,591.69 L526.06,591.95 L527.03,592.20 L527.99,592.46 L528.96,592.72 L529.93,592.97 L530.89,593.22 L531.86,593.47 L532.83,593.72 L533.80,593.96 L534.77,594.21 L535.74,594.45 L536.71,594.69 L537.68,594.93 L538.65,595.17 L539.62,595.41 L540.60,595.64 L541.57,595.88 L542.54,596.11 L543.51,596.34 L544.49,596.57 L545.46,596.80 L546.43,597.03 L547.41,597.26 L548.38,597.48 L549.36,597.70 L550.33,597.92 L551.31,598.15 L552.28,598.36 L553.26,598.58 L554.23,598.80 L555.21,599.01 L556.19,599.23 L557.16,599.44 L558.14,599.65 L559.12,599.86 L560.10,600.07 L561.07,600.28 L562.05,600.48 L563.03,600.68 L564.01,600.89 L564.99,601.09 L565.97,601.29 L566.95,601.48 L567.93,601.68 L568.91,601.87 L569.89,602.07 L570.87,602.26 L571.85,602.45 L572.84,602.64 L573.82,602.82 L574.80,603.01 L575.78,603.19 L576.77,603.38 L577.75,603.56 L578.73,603.73 L579.72,603.91 L580.70,604.09 L581.69,604.26 L582.67,604.43 L583.65,604.60 L584.64,604.77 L585.63,604.94 L586.61,605.11 L587.60,605.27 L588.58,605.43 L589.57,605.60 L590.56,605.76 L591.54,605.91 L592.53,606.07 L593.52,606.23 L594.51,606.38 L595.49,606.53 L596.48,606.68 L597.47,606.83 L598.46,606.98 L599.45,607.12 L600.44,607.27 L601.43,607.41 L602.42,607.55 L603.41,607.69 L604.40,607.83 L605.39,607.97 L606.38,608.10 L607.37,608.23 L608.36,608.37 L609.35,608.50 L610.34,608.63 L611.33,608.75 L612.32,608.88 L613.31,609.00 L614.31,609.13 L615.30,609.25 L616.29,609.37 L617.28,609.49 L618.28,609.61 L619.27,609.72 L620.26,609.84 L621.25,609.95 L622.25,610.06 L623.24,610.17 L624.24,610.28 L625.23,610.38 L626.22,610.49 L627.22,610.59 L628.21,610.70 L629.21,610.80 L630.20,610.90 L631.20,610.99 L632.19,611.09 L633.19,611.19 L634.18,611.28 L635.18,611.37 L636.17,611.46 L637.17,611.55 L638.16,611.64 L639.16,611.73 L640.15,611.81 L641.15,611.90 L642.15,611.98 L643.14,612.06 L644.14,612.14 L645.14,612.22 L646.13,612.30 L647.13,612.37 L648.13,612.45 L649.12,612.52 L650.12,612.59 L651.12,612.66 L652.11,612.73 L653.11,612.80 L654.11,612.87 L655.11,612.94 L656.10,613.00 L657.10,613.06 L658.10,613.13 L659.10,613.19 L660.09,613.25 L661.09,613.31 L662.09,613.37 L663.09,613.42 L664.09,613.48 L665.08,613.54 L666.08,613.59 L667.08,613.64 L668.08,613.70 L669.08,613.75 L670.08,613.80 L671.07,613.85 L672.07,613.89 L673.07,613.94 L674.07,613.99 L675.07,614.03 L676.07,614.08 L677.07,614.12 L678.06,614.16 L679.06,614.20 L680.06,614.25 L681.06,614.29 L682.06,614.32 L683.06,614.36 L684.06,614.40 L685.06,614.44 L686.06,614.47 L687.06,614.51 L688.05,614.54 L689.05,614.57 L690.05,614.61 L691.05,614.64 L692.05,614.67 L693.05,614.70 L694.05,614.73 L695.05,614.76 L696.05,614.78 L697.05,614.81 L698.05,614.84 L699.05,614.86 L700.05,614.89 L701.05,614.91 L702.05,614.94 L703.04,614.96 L704.04,614.98 L705.04,615.00 L706.04,615.02 L707.04,615.04 L708.04,615.06 L709.04,615.08 L710.04,615.10 L711.04,615.12 L712.04,615.14 L713.04,615.15 L714.04,615.17 L715.04,615.19 L716.04,615.20 L717.04,615.22 L718.04,615.23 L719.04,615.25 L720.04,615.26 L721.04,615.27 L722.04,615.28 L723.04,615.30 L724.04,615.31 L725.04,615.32 L726.04,615.33 L727.03,615.34 L728.03,615.35 L729.03,615.36 L730.03,615.37 L731.03,615.38 L732.03,615.39 L733.03,615.40 L734.03,615.41 L735.03,615.41 L736.03,615.42 L737.03,615.43 L738.03,615.44 L739.03,615.44 L740.03,615.45 L741.03,615.46 L742.03,615.46 L743.03,615.47 L744.03,615.48 L745.03,615.48 L746.03,615.49 L747.03,615.49 L748.03,615.50 L749.03,615.50 L750.03,615.51 L751.03,615.51 L752.03,615.52 L753.03,615.52 L754.03,615.53 L755.03,615.53 L756.03,615.53 L757.03,615.54 L758.03,615.54 L759.02,615.54 L760.02,615.55 L761.02,615.55 L762.02,615.55 L763.02,615.56 L764.02,615.56 L765.02,615.56 L766.02,615.56 L767.02,615.56 L768.02,615.57 L769.02,615.57 L770.02,615.57 L771.02,615.57 L772.02,615.57 L773.02,615.57 L774.02,615.58 L775.02,615.58 L776.02,615.58 L777.02,615.58 L778.02,615.58 L779.02,615.58 L780.02,615.58 L781.02,615.58 L782.02,615.58 L783.02,615.58 L784.02,615.58 L785.02,615.58 L786.02,615.58 L787.02,615.58 L788.02,615.58 L789.01,615.58 L790.01,615.58 L791.01,615.58 L792.01,615.58 L793.01,615.58 L794.01,615.58 L795.01,615.57 L796.01,615.57 L797.01,615.57 L798.01,615.57 L799.01,615.57 L800.01,615.57 L801.01,615.57 L802.01,615.56 L803.01,615.56 L804.01,615.56 L805.01,615.56 L806.01,615.56 L807.01,615.56 L808.01,615.55 L809.01,615.55 L810.01,615.55 L811.01,615.55 L812.01,615.55 L813.01,615.54 L814.01,615.54 L815.01,615.54 L816.01,615.54 L817.00,615.53 L818.00,615.53 L819.00,615.53 L820.00,615.53 L821.00,615.53 L822.00,615.52 L823.00,615.52 L824.00,615.52 L825.00,615.52 L826.00,615.51 L827.00,615.51 L828.00,615.51 L829.00,615.51 L830.00,615.50 L831.00,615.50"/>
<path stroke="#800080" d="M154.00,615.50 L154.05,614.50 L154.09,613.50 L154.14,612.50 L154.18,611.51 L154.23,610.51 L154.27,609.51 L154.32,608.51 L154.36,607.51 L154.41,606.51 L154.46,605.52 L154.50,604.52 L154.55,603.52 L154.59,602.52 L154.64,601.52 L154.69,600.52 L154.73,599.53 L154.78,598.53 L154.83,597.53 L154.87,596.53 L154.92,595.53 L154.97,594.53 L155.01,593.54 L155.06,592.54 L155.11,591.54 L155.16,590.54 L155.21,589.54 L155.25,588.54 L155.30,587.55 L155.35,586.55 L155.40,585.55 L155.45,584.55 L155.50,583.55 L155.55,582.55 L155.60,581.56 L155.65,580.56 L155.70,579.56 L155.75,578.56 L155.80,577.56 L155.85,576.57 L155.90,575.57 L155.95,574.57 L156.01,573.57 L156.06,572.57 L156.11,571.58 L156.17,570.58 L156.22,569.58 L156.27,568.58 L156.33,567.58 L156.38,566.59 L156.44,565.59 L156.50,564.59 L156.55,563.59 L156.61,562.59 L156.67,561.60 L156.73,560.60 L156.78,559.60 L156.84,558.60 L156.90,557.61 L156.96,556.61 L157.02,555.61 L157.08,554.61 L157.15,553.62 L157.21,552.62 L157.27,551.62 L157.33,550.62 L157.40,549.63 L157.46,548.63 L157.53,547.63 L157.59,546.64 L157.66,545.64 L157.73,544.64 L157.80,543.64 L157.86,542.65 L157.93,541.65 L158.00,540.65 L158.07,539.66 L158.14,538.66 L158.22,537.66 L158.29,536.67 L158.36,535.67 L158.43,534.67 L158.51,533.68 L158.58,532.68 L158.66,531.68 L158.73,530.69 L158.81,529.69 L158.88,528.69 L158.96,527.70 L159.04,526.70 L159.12,525.70 L159.19,524.71 L159.27,523.71 L159.35,522.72 L159.43,521.72 L159.51,520.72 L159.59,519.73 L159.67,518.73 L159.75,517.73 L159.84,516.74 L159.92,515.74 L160.00,514.75 L160.08,513.75 L160.16,512.75 L160.25,511.76 L160.33,510.76 L160.41,509.77 L160.49,508.77 L160.58,507.77 L160.66,506.78 L160.74,505.78 L160.82,504.79 L160.91,503.79 L160.99,502.79 L161.07,501.80 L161.16,500.80 L161.24,499.81 L161.32,498.81 L161.40,497.82 L161.49,496.82 L161.57,495.82 L161.65,494.83 L161.73,493.83 L161.82,492.84 L161.90,491.84 L161.98,490.84 L162.06,489.85 L162.15,488.85 L162.23,487.86 L162.31,486.86 L162.40,485.86 L162.48,484.87 L162.56,483.87 L162.65,482.88 L162.73,481.88 L162.82,480.89 L162.90,479.89 L162.98,478.89 L163.07,477.90 L163.15,476.90 L163.24,475.91 L163.33,474.91 L163.41,473.92 L163.50,472.92 L163.58,471.93 L163.67,470.93 L163.76,469.94 L163.84,468.94 L163.93,467.94 L164.02,466.95 L164.11,465.95 L164.20,464.96 L164.29,463.96 L164.38,462.97 L164.47,461.97 L164.56,460.98 L164.65,459.98 L164.74,458.99 L164.83,457.99 L164.92,457.00 L165.02,456.01 L165.11,455.01 L165.20,454.02 L165.30,453.02 L165.39,452.03 L165.49,451.03 L165.58,450.04 L165.68,449.04 L165.78,448.05 L165.87,447.06 L165.97,446.06 L166.07,445.07 L166.16,444.07 L166.26,443.08 L166.36,442.08 L166.46,441.09 L166.55,440.10 L166.65,439.10 L166.75,438.11 L166.85,437.11 L166.94,436.12 L167.04,435.12 L167.14,434.13 L167.23,433.14 L167.33,432.14 L167.42,431.15 L167.52,430.15 L167.62,429.16 L167.71,428.16 L167.81,427.17 L167.90,426.17 L168.00,425.18 L168.10,424.19 L168.19,423.19 L168.29,422.20 L168.38,421.20 L168.48,420.21 L168.57,419.21 L168.67,418.22 L168.77,417.22 L168.86,416.23 L168.96,415.23 L169.05,414.24 L169.15,413.24 L169.25,412.25 L169.34,411.26 L169.44,410.26 L169.54,409.27 L169.63,408.27 L169.73,407.28 L169.83,406.28 L169.92,405.29 L170.02,404.29 L170.12,403.30 L170.22,402.30 L170.31,401.31 L170.41,400.31 L170.51,399.32 L170.61,398.33 L170.71,397.33 L170.81,396.34 L170.91,395.34 L171.01,394.35 L171.11,393.35 L171.21,392.36 L171.31,391.37 L171.42,390.37 L171.52,389.38 L171.62,388.38 L171.73,387.39 L171.83,386.40 L171.93,385.40 L172.04,384.41 L172.15,383.41 L172.25,382.42 L172.36,381.43 L172.46,380.43 L172.57,379.44 L172.68,378.45 L172.79,377.45 L172.90,376.46 L173.01,375.46 L173.12,374.47 L173.23,373.48 L173.34,372.48 L173.45,371.49 L173.56,370.50 L173.68,369.51 L173.79,368.51 L173.90,367.52 L174.02,366.53 L174.13,365.53 L174.25,364.54 L174.37,363.55 L174.48,362.56 L174.60,361.56 L174.72,360.57 L174.84,359.58 L174.96,358.59 L175.08,357.59 L175.20,356.60 L175.32,355.61 L175.44,354.62 L175.56,353.63 L175.68,352.63 L175.81,351.64 L175.93,350.65 L176.06,349.66 L176.18,348.67 L176.31,347.68 L176.43,346.69 L176.56,345.69 L176.69,344.70 L176.82,343.71 L176.95,342.72 L177.08,341.73 L177.21,340.74 L177.34,339.75 L177.47,338.76 L177.61,337.77 L177.74,336.78 L177.87,335.79 L178.01,334.80 L178.14,333.81 L178.28,332.82 L178.42,331.83 L178.55,330.84 L178.69,329.85 L178.83,328.86 L178.97,327.87 L179.11,326.88 L179.25,325.89 L179.39,324.90 L179.53,323.91 L179.68,322.92 L179.82,321.93 L179.97,320.94 L180.11,319.95 L180.26,318.96 L180.40,317.98 L180.55,316.99 L180.70,316.00 L180.84,315.01 L180.99,314.02 L181.14,313.03 L181.29,312.05 L181.44,311.06 L181.59,310.07 L181.75,309.08 L181.90,308.10 L182.05,307.11 L182.21,306.12 L182.36,305.13 L182.52,304.15 L182.67,303.16 L182.83,302.17 L182.99,301.19 L183.15,300.20 L183.31,299.21 L183.47,298.23 L183.63,297.24 L183.79,296.25 L183.95,295.27 L184.11,294.28 L184.28,293.30 L184.44,292.31 L184.61,291.33 L184.78,290.34 L184.94,289.36 L185.11,288.37 L185.28,287.39 L185.45,286.40 L185.62,285.42 L185.80,284.43 L185.97,283.45 L186.14,282.46 L186.32,281.48 L186.49,280.50 L186.67,279.51 L186.84,278.53 L187.02,277.54 L187.19,276.56 L187.37,275.58 L187.55,274.59 L187.73,273.61 L187.90,272.63 L188.08,271.64 L188.26,270.66 L188.44,269.68 L188.62,268.69 L188.80,267.71 L188.97,266.73 L189.15,265.74 L189.33,264.76 L189.50,263.78 L189.68,262.79 L189.86,261.81 L190.03,260.82 L190.21,259.84 L190.39,258.86 L190.56,257.87 L190.74,256.89 L190.92,255.91 L191.09,254.92 L191.27,253.94 L191.45,252.96 L191.63,251.98 L191.81,250.99 L192.00,250.01 L192.18,249.03 L192.37,248.05 L192.55,247.07 L192.74,246.09 L192.94,245.11 L193.13,244.13 L193.33,243.15 L193.53,242.17 L193.73,241.19 L193.94,240.21 L194.15,239.24 L194.36,238.26 L194.58,237.29 L194.79,236.31 L195.02,235.34 L195.24,234.37 L195.47,233.39 L195.70,232.42 L195.93,231.45 L196.16,230.48 L196.39,229.51 L196.63,228.54 L196.86,227.56 L197.10,226.59 L197.34,225.62 L197.58,224.65 L197.82,223.68 L198.06,222.71 L198.30,221.74 L198.55,220.78 L198.79,219.81 L199.04,218.84 L199.29,217.87 L199.53,216.90 L199.78,215.93 L200.03,214.96 L200.29,214.00 L200.54,213.03 L200.79,212.06 L201.05,211.10 L201.31,210.13 L201.57,209.17 L201.83,208.20 L202.09,207.24 L202.36,206.27 L202.63,205.31 L202.90,204.35 L203.18,203.39 L203.45,202.43 L203.73,201.47 L204.01,200.51 L204.30,199.55 L204.59,198.59 L204.87,197.64 L205.17,196.68 L205.46,195.73 L205.76,194.77 L206.06,193.82 L206.37,192.87 L206.67,191.92 L206.98,190.97 L207.29,190.02 L207.61,189.07 L207.93,188.13 L208.25,187.18 L208.58,186.24 L208.91,185.29 L209.25,184.35 L209.59,183.42 L209.94,182.48 L210.29,181.54 L210.64,180.61 L211.01,179.68 L211.37,178.75 L211.75,177.82 L212.12,176.89 L212.51,175.97 L212.89,175.05 L213.28,174.13 L213.68,173.21 L214.08,172.29 L214.48,171.37 L214.89,170.46 L215.30,169.55 L215.72,168.63 L216.14,167.72 L216.56,166.81 L216.98,165.90 L217.41,165.00 L217.84,164.09 L218.28,163.19 L218.71,162.28 L219.15,161.38 L219.59,160.48 L220.04,159.58 L220.49,158.69 L220.94,157.79 L221.39,156.90 L221.85,156.01 L222.32,155.13 L222.79,154.25 L223.27,153.37 L223.75,152.50 L224.24,151.63 L224.74,150.77 L225.25,149.92 L225.77,149.07 L226.30,148.24 L226.84,147.40 L227.39,146.58 L227.95,145.77 L228.52,144.96 L229.11,144.17 L229.71,143.38 L230.33,142.61 L230.95,141.84 L231.59,141.09 L232.24,140.34 L232.90,139.60 L233.57,138.88 L234.26,138.16 L234.95,137.45 L235.65,136.75 L236.37,136.06 L237.09,135.37 L237.83,134.70 L238.57,134.03 L239.32,133.38 L240.08,132.73 L240.85,132.09 L241.62,131.46 L242.41,130.83 L243.20,130.22 L243.99,129.61 L244.80,129.01 L245.61,128.43 L246.43,127.84 L247.25,127.27 L248.08,126.70 L248.92,126.15 L249.76,125.60 L250.61,125.06 L251.46,124.53 L252.32,124.00 L253.18,123.49 L254.05,122.98 L254.92,122.48 L255.80,121.99 L256.68,121.51 L257.57,121.04 L258.46,120.58 L259.35,120.13 L260.25,119.69 L261.15,119.26 L262.06,118.85 L262.97,118.44 L263.89,118.06 L264.82,117.68 L265.75,117.33 L266.68,116.98 L267.63,116.66 L268.57,116.34 L269.52,116.05 L270.48,115.76 L271.44,115.49 L272.40,115.23 L273.37,114.99 L274.34,114.75 L275.32,114.53 L276.29,114.32 L277.27,114.12 L278.25,113.93 L279.24,113.75 L280.22,113.58 L281.21,113.41 L282.20,113.26 L283.19,113.12 L284.18,112.98 L285.17,112.85 L286.16,112.73 L287.16,112.62 L288.15,112.51 L289.15,112.41 L290.14,112.31 L291.14,112.23 L292.14,112.15 L293.14,112.08 L294.14,112.02 L295.14,111.96 L296.14,111.92 L297.14,111.87 L298.14,111.84 L299.14,111.81 L300.15,111.79 L301.15,111.78 L302.15,111.78 L303.15,111.79 L304.15,111.81 L305.15,111.85 L306.15,111.90 L307.15,111.96 L308.14,112.04 L309.13,112.15 L310.12,112.27 L311.10,112.41 L312.08,112.58 L313.06,112.78 L314.02,113.00 L314.98,113.24 L315.94,113.52 L316.88,113.82 L317.82,114.15 L318.75,114.50 L319.67,114.87 L320.58,115.27 L321.48,115.69 L322.38,116.12 L323.27,116.58 L324.14,117.06 L325.01,117.55 L325.87,118.06 L326.73,118.59 L327.57,119.13 L328.40,119.68 L329.22,120.25 L330.04,120.83 L330.84,121.42 L331.64,122.03 L332.43,122.64 L333.20,123.27 L333.97,123.91 L334.73,124.56 L335.48,125.22 L336.22,125.88 L336.95,126.56 L337.68,127.24 L338.40,127.94 L339.10,128.64 L339.80,129.35 L340.50,130.06 L341.18,130.79 L341.86,131.52 L342.54,132.25 L343.20,132.99 L343.86,133.74 L344.52,134.50 L345.16,135.26 L345.81,136.02 L346.44,136.79 L347.07,137.57 L347.70,138.34 L348.32,139.13 L348.94,139.92 L349.55,140.71 L350.16,141.50 L350.76,142.30 L351.36,143.11 L351.95,143.91 L352.54,144.72 L353.13,145.53 L353.71,146.35 L354.29,147.17 L354.86,147.99 L355.43,148.81 L356.00,149.64 L356.56,150.47 L357.12,151.30 L357.67,152.13 L358.23,152.97 L358.78,153.81 L359.32,154.65 L359.86,155.49 L360.40,156.33 L360.94,157.18 L361.47,158.03 L362.00,158.88 L362.53,159.73 L363.05,160.59 L363.57,161.44 L364.09,162.30 L364.61,163.16 L365.12,164.02 L365.63,164.88 L366.14,165.74 L366.65,166.60 L367.15,167.47 L367.66,168.33 L368.16,169.20 L368.66,170.07 L369.15,170.94 L369.65,171.81 L370.14,172.68 L370.64,173.55 L371.13,174.42 L371.62,175.29 L372.11,176.17 L372.59,177.04 L373.08,177.92 L373.56,178.79 L374.05,179.67 L374.53,180.55 L375.01,181.42 L375.49,182.30 L375.97,183.18 L376.45,184.06 L376.92,184.94 L377.40,185.82 L377.87,186.70 L378.35,187.58 L378.82,188.46 L379.29,189.34 L379.76,190.23 L380.23,191.11 L380.70,191.99 L381.16,192.88 L381.63,193.76 L382.10,194.65 L382.56,195.53 L383.02,196.42 L383.48,197.30 L383.95,198.19 L384.41,199.08 L384.86,199.97 L385.32,200.85 L385.78,201.74 L386.23,202.63 L386.69,203.52 L387.14,204.41 L387.59,205.30 L388.04,206.20 L388.49,207.09 L388.94,207.98 L389.38,208.88 L389.83,209.77 L390.27,210.67 L390.72,211.56 L391.16,212.46 L391.60,213.35 L392.04,214.25 L392.48,215.15 L392.92,216.04 L393.36,216.94 L393.80,217.84 L394.23,218.74 L394.67,219.64 L395.10,220.54 L395.54,221.44 L395.97,222.34 L396.40,223.24 L396.84,224.14 L397.27,225.04 L397.70,225.94 L398.13,226.84 L398.55,227.74 L398.98,228.65 L399.41,229.55 L399.83,230.45 L400.26,231.36 L400.68,232.26 L401.11,233.17 L401.53,234.07 L401.95,234.98 L402.37,235.89 L402.79,236.79 L403.21,237.70 L403.63,238.61 L404.05,239.51 L404.46,240.42 L404.88,241.33 L405.30,242.24 L405.71,243.15 L406.13,244.06 L406.54,244.97 L406.95,245.88 L407.37,246.79 L407.78,247.70 L408.19,248.61 L408.60,249.52 L409.01,250.43 L409.43,251.34 L409.84,252.25 L410.25,253.16 L410.66,254.07 L411.07,254.98 L411.48,255.90 L411.89,256.81 L412.30,257.72 L412.70,258.63 L413.11,259.54 L413.52,260.45 L413.93,261.37 L414.34,262.28 L414.75,263.19 L415.16,264.10 L415.57,265.01 L415.98,265.93 L416.38,266.84 L416.79,267.75 L417.20,268.66 L417.61,269.57 L418.02,270.49 L418.43,271.40 L418.83,272.31 L419.24,273.22 L419.65,274.13 L420.06,275.05 L420.47,275.96 L420.87,276.87 L421.28,277.78 L421.69,278.70 L422.10,279.61 L422.50,280.52 L422.91,281.43 L423.31,282.35 L423.72,283.26 L424.13,284.17 L424.53,285.09 L424.93,286.00 L425.34,286.91 L425.74,287.83 L426.14,288.74 L426.55,289.66 L426.95,290.57 L427.35,291.49 L427.75,292.40 L428.15,293.32 L428.54,294.24 L428.94,295.15 L429.34,296.07 L429.73,296.99 L430.13,297.91 L430.52,298.82 L430.91,299.74 L431.31,300.66 L431.70,301.58 L432.09,302.50 L432.48,303.42 L432.87,304.34 L433.26,305.26 L433.65,306.18 L434.04,307.10 L434.43,308.02 L434.81,308.94 L435.20,309.86 L435.59,310.79 L435.97,311.71 L436.36,312.63 L436.74,313.55 L437.13,314.47 L437.52,315.40 L437.90,316.32 L438.28,317.24 L438.67,318.16 L439.05,319.08 L439.44,320.01 L439.82,320.93 L440.21,321.85 L440.59,322.78 L440.97,323.70 L441.36,324.62 L441.74,325.54 L442.12,326.47 L442.51,327.39 L442.89,328.31 L443.28,329.23 L443.66,330.16 L444.05,331.08 L444.43,332.00 L444.82,332.92 L445.20,333.84 L445.59,334.77 L445.97,335.69 L446.36,336.61 L446.75,337.53 L447.13,338.45 L447.52,339.38 L447.91,340.30 L448.29,341.22 L448.68,342.14 L449.07,343.06 L449.46,343.98 L449.85,344.90 L450.24,345.82 L450.63,346.74 L451.02,347.66 L451.41,348.58 L451.80,349.50 L452.19,350.42 L452.58,351.34 L452.97,352.26 L453.36,353.18 L453.75,354.10 L454.14,355.02 L454.53,355.94 L454.92,356.86 L455.32,357.78 L455.71,358.70 L456.10,359.62 L456.49,360.54 L456.88,361.46 L457.27,362.38 L457.67,363.30 L458.06,364.22 L458.45,365.13 L458.84,366.05 L459.23,366.97 L459.63,367.89 L460.02,368.81 L460.41,369.73 L460.81,370.65 L461.20,371.57 L461.59,372.48 L461.99,373.40 L462.38,374.32 L462.78,375.24 L463.17,376.16 L463.57,377.07 L463.97,377.99 L464.36,378.91 L464.76,379.82 L465.16,380.74 L465.56,381.66 L465.96,382.57 L466.36,383.49 L466.77,384.40 L467.17,385.31 L467.58,386.23 L467.98,387.14 L468.39,388.05 L468.80,388.96 L469.21,389.87 L469.62,390.79 L470.03,391.70 L470.44,392.61 L470.86,393.51 L471.27,394.42 L471.69,395.33 L472.11,396.24 L472.53,397.14 L472.95,398.05 L473.37,398.96 L473.80,399.86 L474.22,400.76 L474.65,401.67 L475.07,402.57 L475.50,403.47 L475.93,404.38 L476.36,405.28 L476.79,406.18 L477.23,407.08 L477.66,407.98 L478.10,408.88 L478.54,409.78 L478.97,410.67 L479.41,411.57 L479.85,412.47 L480.30,413.36 L480.74,414.26 L481.18,415.15 L481.63,416.05 L482.08,416.94 L482.53,417.84 L482.97,418.73 L483.42,419.62 L483.88,420.51 L484.33,421.40 L484.78,422.29 L485.24,423.18 L485.70,424.07 L486.15,424.96 L486.61,425.85 L487.07,426.73 L487.53,427.62 L487.99,428.51 L488.46,429.39 L488.92,430.28 L489.39,431.16 L489.85,432.04 L490.32,432.93 L490.79,433.81 L491.26,434.69 L491.73,435.57 L492.20,436.45 L492.68,437.33 L493.15,438.21 L493.63,439.09 L494.11,439.97 L494.59,440.84 L495.07,441.72 L495.55,442.60 L496.03,443.47 L496.52,444.35 L497.00,445.22 L497.49,446.09 L497.98,446.96 L498.47,447.83 L498.96,448.70 L499.45,449.57 L499.95,450.44 L500.44,451.31 L500.94,452.18 L501.43,453.05 L501.93,453.91 L502.43,454.78 L502.93,455.64 L503.43,456.51 L503.94,457.37 L504.44,458.23 L504.95,459.10 L505.45,459.96 L505.96,460.82 L506.47,461.68 L506.98,462.54 L507.49,463.40 L508.00,464.26 L508.52,465.12 L509.03,465.97 L509.55,466.83 L510.06,467.68 L510.58,468.54 L511.10,469.39 L511.62,470.24 L512.15,471.10 L512.67,471.95 L513.20,472.80 L513.72,473.65 L514.25,474.49 L514.78,475.34 L515.32,476.19 L515.85,477.03 L516.39,477.88 L516.92,478.72 L517.46,479.56 L518.01,480.40 L518.55,481.24 L519.09,482.07 L519.64,482.91 L520.19,483.74 L520.74,484.58 L521.30,485.41 L521.85,486.24 L522.41,487.07 L522.97,487.90 L523.53,488.72 L524.10,489.55 L524.67,490.37 L525.23,491.19 L525.81,492.01 L526.38,492.83 L526.95,493.65 L527.53,494.47 L528.11,495.28 L528.69,496.09 L529.28,496.90 L529.86,497.71 L530.45,498.52 L531.04,499.33 L531.63,500.13 L532.23,500.94 L532.82,501.74 L533.42,502.54 L534.02,503.34 L534.63,504.14 L535.23,504.93 L535.84,505.73 L536.45,506.52 L537.06,507.31 L537.67,508.10 L538.29,508.88 L538.91,509.67 L539.53,510.45 L540.15,511.23 L540.78,512.01 L541.41,512.79 L542.04,513.56 L542.67,514.34 L543.30,515.11 L543.94,515.88 L544.58,516.65 L545.22,517.41 L545.87,518.17 L546.52,518.93 L547.17,519.69 L547.82,520.45 L548.47,521.20 L549.13,521.95 L549.79,522.70 L550.45,523.45 L551.12,524.19 L551.79,524.93 L552.46,525.67 L553.14,526.41 L553.81,527.14 L554.49,527.87 L555.18,528.60 L555.86,529.33 L556.55,530.05 L557.24,530.77 L557.93,531.49 L558.63,532.20 L559.33,532.91 L560.03,533.62 L560.74,534.33 L561.45,535.03 L562.16,535.74 L562.87,536.43 L563.58,537.13 L564.30,537.82 L565.02,538.51 L565.75,539.20 L566.47,539.88 L567.20,540.56 L567.94,541.24 L568.67,541.92 L569.41,542.59 L570.15,543.26 L570.89,543.93 L571.64,544.59 L572.38,545.25 L573.13,545.91 L573.89,546.57 L574.64,547.22 L575.40,547.87 L576.16,548.52 L576.92,549.16 L577.69,549.81 L578.45,550.45 L579.22,551.08 L580.00,551.72 L580.77,552.35 L581.55,552.98 L582.32,553.61 L583.10,554.23 L583.89,554.85 L584.67,555.47 L585.46,556.09 L586.24,556.71 L587.03,557.32 L587.82,557.93 L588.62,558.54 L589.41,559.15 L590.21,559.75 L591.01,560.36 L591.81,560.96 L592.61,561.56 L593.41,562.15 L594.21,562.75 L595.02,563.34 L595.83,563.93 L596.64,564.52 L597.45,565.11 L598.26,565.70 L599.07,566.28 L599.88,566.86 L600.70,567.44 L601.52,568.02 L602.34,568.60 L603.16,569.17 L603.98,569.75 L604.80,570.32 L605.62,570.89 L606.45,571.46 L607.27,572.02 L608.10,572.59 L608.93,573.15 L609.76,573.71 L610.59,574.27 L611.42,574.83 L612.25,575.38 L613.09,575.94 L613.92,576.49 L614.76,577.04 L615.60,577.59 L616.44,578.13 L617.28,578.68 L618.12,579.22 L618.96,579.76 L619.81,580.29 L620.65,580.83 L621.50,581.36 L622.35,581.89 L623.20,582.42 L624.05,582.95 L624.90,583.47 L625.75,583.99 L626.61,584.51 L627.46,585.03 L628.32,585.54 L629.18,586.05 L630.04,586.56 L630.91,587.06 L631.77,587.56 L632.64,588.06 L633.51,588.55 L634.38,589.04 L635.25,589.53 L636.12,590.01 L637.00,590.48 L637.88,590.96 L638.76,591.43 L639.64,591.89 L640.53,592.35 L641.41,592.81 L642.30,593.26 L643.20,593.70 L644.09,594.14 L644.99,594.58 L645.89,595.01 L646.79,595.44 L647.69,595.86 L648.60,596.27 L649.51,596.68 L650.42,597.08 L651.33,597.48 L652.24,597.88 L653.16,598.26 L654.08,598.65 L655.00,599.02 L655.93,599.40 L656.85,599.76 L657.78,600.12 L658.71,600.48 L659.65,600.83 L660.58,601.17 L661.52,601.51 L662.46,601.84 L663.40,602.17 L664.34,602.49 L665.29,602.81 L666.23,603.12 L667.18,603.43 L668.13,603.73 L669.09,604.03 L670.04,604.32 L671.00,604.60 L671.95,604.89 L672.91,605.16 L673.87,605.43 L674.83,605.70 L675.80,605.96 L676.76,606.22 L677.73,606.47 L678.69,606.71 L679.66,606.95 L680.63,607.19 L681.60,607.42 L682.57,607.65 L683.55,607.87 L684.52,608.09 L685.50,608.30 L686.47,608.51 L687.45,608.71 L688.43,608.91 L689.41,609.11 L690.39,609.30 L691.37,609.48 L692.36,609.66 L693.34,609.84 L694.32,610.01 L695.31,610.18 L696.29,610.34 L697.28,610.50 L698.27,610.66 L699.25,610.81 L700.24,610.96 L701.23,611.11 L702.22,611.25 L703.21,611.39 L704.20,611.52 L705.19,611.65 L706.18,611.78 L707.17,611.91 L708.17,612.03 L709.16,612.15 L710.15,612.27 L711.15,612.38 L712.14,612.49 L713.13,612.60 L714.13,612.71 L715.12,612.81 L716.12,612.91 L717.11,613.01 L718.11,613.11 L719.10,613.20 L720.10,613.29 L721.09,613.38 L722.09,613.47 L723.09,613.55 L724.08,613.63 L725.08,613.71 L726.07,613.79 L727.07,613.87 L728.07,613.94 L729.07,614.01 L730.06,614.08 L731.06,614.15 L732.06,614.21 L733.06,614.27 L734.05,614.33 L735.05,614.39 L736.05,614.45 L737.05,614.50 L738.05,614.55 L739.05,614.60 L740.04,614.65 L741.04,614.70 L742.04,614.75 L743.04,614.79 L744.04,614.83 L745.04,614.87 L746.04,614.91 L747.04,614.95 L748.03,614.98 L749.03,615.01 L750.03,615.05 L751.03,615.08 L752.03,615.11 L753.03,615.14 L754.03,615.16 L755.03,615.19 L756.03,615.21 L757.03,615.24 L758.03,615.26 L759.03,615.28 L760.03,615.30 L761.03,615.32 L762.03,615.34 L763.03,615.36 L764.03,615.38 L765.03,615.39 L766.03,615.41 L767.03,615.42 L768.02,615.43 L769.02,615.45 L770.02,615.46 L771.02,615.47 L772.02,615.48 L773.02,615.49 L774.02,615.50 L775.02,615.51 L776.02,615.52 L777.02,615.53 L778.02,615.53 L779.02,615.54 L780.02,615.54 L781.02,615.55 L782.02,615.55 L783.02,615.56 L784.02,615.56 L785.02,615.57 L786.02,615.57 L787.02,615.57 L788.02,615.58 L789.02,615.58 L790.02,615.58 L791.02,615.58 L792.02,615.58 L793.02,615.58 L794.02,615.58 L795.02,615.59 L796.02,615.59 L797.02,615.59 L798.02,615.59 L799.02,615.59 L800.01,615.59 L801.01,615.58 L802.01,615.58 L803.01,615.58 L804.01,615.58 L805.01,615.58 L806.01,615.58 L807.01,615.58 L808.01,615.57 L809.01,615.57 L810.01,615.57 L811.01,615.57 L812.01,615.56 L813.01,615.56 L814.01,615.56 L815.01,615.56 L816.01,615.55 L817.01,615.55 L818.01,615.55 L819.01,615.54 L820.01,615.54 L821.01,615.54 L822.00,615.53 L823.00,615.53 L824.00,615.53 L825.00,615.52 L826.00,615.52 L827.00,615.52 L828.00,615.51 L829.00,615.51 L830.00,615.50 L831.00,615.50"/>
<path stroke="#D2691E" d="M154.00,615.50 L154.06,614.50 L154.12,613.51 L154.18,612.51 L154.24,611.51 L154.31,610.51 L154.37,609.52 L154.43,608.52 L154.49,607.52 L154.56,606.52 L154.62,605.53 L154.69,604.53 L154.75,603.53 L154.82,602.53 L154.89,601.54 L154.95,600.54 L155.02,599.54 L155.09,598.55 L155.17,597.55 L155.24,596.55 L155.31,595.56 L155.39,594.56 L155.47,593.56 L155.55,592.57 L155.63,591.57 L155.71,590.57 L155.79,589.58 L155.87,588.58 L155.96,587.59 L156.05,586.59 L156.13,585.59 L156.22,584.60 L156.32,583.60 L156.41,582.61 L156.50,581.61 L156.60,580.61 L156.69,579.62 L156.79,578.62 L156.89,577.63 L156.99,576.63 L157.09,575.64 L157.20,574.64 L157.30,573.65 L157.41,572.65 L157.51,571.66 L157.62,570.66 L157.73,569.67 L157.84,568.67 L157.95,567.68 L158.06,566.68 L158.18,565.69 L158.29,564.69 L158.40,563.70 L158.52,562.70 L158.64,561.71 L158.76,560.71 L158.88,559.72 L159.00,558.72 L159.12,557.73 L159.24,556.73 L159.37,555.74 L159.49,554.75 L159.62,553.75 L159.75,552.76 L159.88,551.76 L160.01,550.77 L160.14,549.78 L160.28,548.78 L160.41,547.79 L160.55,546.80 L160.69,545.81 L160.83,544.82 L160.98,543.82 L161.12,542.83 L161.27,541.84 L161.42,540.85 L161.57,539.86 L161.73,538.87 L161.89,537.89 L162.05,536.90 L162.21,535.91 L162.38,534.92 L162.55,533.94 L162.72,532.95 L162.90,531.97 L163.08,530.98 L163.26,530.00 L163.45,529.02 L163.64,528.04 L163.84,527.06 L164.04,526.08 L164.25,525.10 L164.46,524.13 L164.67,523.15 L164.89,522.18 L165.12,521.21 L165.35,520.24 L165.58,519.27 L165.82,518.30 L166.07,517.34 L166.32,516.37 L166.58,515.41 L166.84,514.45 L167.11,513.49 L167.38,512.53 L167.67,511.58 L167.95,510.62 L168.25,509.67 L168.55,508.72 L168.85,507.78 L169.17,506.83 L169.49,505.89 L169.81,504.95 L170.14,504.01 L170.48,503.07 L170.83,502.14 L171.18,501.21 L171.54,500.28 L171.90,499.35 L172.28,498.43 L172.65,497.51 L173.04,496.59 L173.43,495.67 L173.83,494.76 L174.23,493.84 L174.64,492.93 L175.06,492.03 L175.48,491.12 L175.91,490.22 L176.34,489.32 L176.78,488.43 L177.23,487.53 L177.68,486.64 L178.14,485.76 L178.61,484.87 L179.08,483.99 L179.56,483.11 L180.04,482.23 L180.53,481.36 L181.02,480.49 L181.52,479.62 L182.03,478.75 L182.54,477.89 L183.05,477.04 L183.58,476.18 L184.11,475.33 L184.64,474.48 L185.18,473.63 L185.72,472.79 L186.28,471.95 L186.83,471.12 L187.39,470.29 L187.96,469.46 L188.54,468.64 L189.12,467.82 L189.70,467.00 L190.29,466.19 L190.89,465.38 L191.49,464.58 L192.09,463.78 L192.71,462.98 L193.33,462.19 L193.95,461.41 L194.58,460.62 L195.21,459.84 L195.85,459.07 L196.50,458.30 L197.15,457.54 L197.81,456.78 L198.47,456.03 L199.13,455.28 L199.81,454.53 L200.49,453.79 L201.17,453.06 L201.86,452.33 L202.55,451.61 L203.25,450.90 L203.96,450.18 L204.67,449.48 L205.39,448.78 L206.11,448.09 L206.83,447.40 L207.57,446.73 L208.31,446.05 L209.05,445.39 L209.80,444.73 L210.56,444.09 L211.33,443.46 L212.11,442.84 L212.90,442.24 L213.70,441.66 L214.51,441.10 L215.34,440.56 L216.18,440.05 L217.04,439.57 L217.91,439.11 L218.79,438.68 L219.69,438.28 L220.60,437.90 L221.52,437.56 L222.46,437.24 L223.40,436.94 L224.36,436.68 L225.32,436.44 L226.29,436.22 L227.26,436.04 L228.24,435.87 L229.23,435.73 L230.22,435.62 L231.22,435.53 L232.21,435.46 L233.21,435.41 L234.21,435.38 L235.21,435.38 L236.21,435.39 L237.21,435.43 L238.21,435.48 L239.21,435.56 L240.21,435.65 L241.20,435.76 L242.20,435.89 L243.19,436.03 L244.18,436.19 L245.16,436.36 L246.15,436.55 L247.13,436.76 L248.10,436.97 L249.08,437.20 L250.05,437.44 L251.02,437.69 L251.99,437.94 L252.96,438.21 L253.92,438.48 L254.88,438.75 L255.84,439.04 L256.80,439.32 L257.76,439.61 L258.72,439.90 L259.68,440.20 L260.64,440.49 L261.59,440.79 L262.55,441.09 L263.50,441.39 L264.46,441.68 L265.42,441.98 L266.37,442.28 L267.33,442.58 L268.28,442.88 L269.24,443.17 L270.19,443.47 L271.15,443.77 L272.10,444.07 L273.06,444.37 L274.01,444.67 L274.97,444.98 L275.92,445.28 L276.87,445.59 L277.82,445.89 L278.77,446.20 L279.73,446.51 L280.68,446.82 L281.62,447.14 L282.57,447.45 L283.52,447.77 L284.47,448.09 L285.41,448.41 L286.36,448.73 L287.30,449.06 L288.25,449.39 L289.19,449.72 L290.13,450.06 L291.07,450.40 L292.01,450.74 L292.95,451.08 L293.88,451.43 L294.82,451.78 L295.75,452.13 L296.68,452.49 L297.61,452.85 L298.54,453.21 L299.47,453.58 L300.40,453.95 L301.32,454.32 L302.24,454.70 L303.17,455.08 L304.08,455.47 L305.00,455.86 L305.92,456.26 L306.83,456.65 L307.74,457.06 L308.65,457.47 L309.56,457.88 L310.47,458.29 L311.37,458.71 L312.27,459.14 L313.17,459.56 L314.07,460.00 L314.97,460.43 L315.86,460.87 L316.76,461.32 L317.65,461.77 L318.54,462.22 L319.42,462.68 L320.31,463.14 L321.19,463.60 L322.07,464.07 L322.95,464.54 L323.83,465.01 L324.71,465.49 L325.58,465.97 L326.46,466.45 L327.33,466.94 L328.20,467.43 L329.07,467.92 L329.93,468.42 L330.80,468.91 L331.66,469.41 L332.53,469.92 L333.39,470.42 L334.25,470.93 L335.11,471.44 L335.97,471.95 L336.83,472.46 L337.68,472.98 L338.54,473.50 L339.39,474.02 L340.24,474.54 L341.10,475.06 L341.95,475.59 L342.80,476.11 L343.64,476.64 L344.49,477.17 L345.34,477.70 L346.18,478.24 L347.03,478.77 L347.87,479.31 L348.72,479.84 L349.56,480.38 L350.40,480.92 L351.24,481.47 L352.08,482.01 L352.91,482.56 L353.75,483.10 L354.59,483.65 L355.42,484.20 L356.26,484.75 L357.09,485.30 L357.92,485.85 L358.76,486.41 L359.59,486.96 L360.42,487.52 L361.25,488.08 L362.08,488.63 L362.91,489.19 L363.74,489.75 L364.56,490.31 L365.39,490.87 L366.22,491.43 L367.05,491.99 L367.88,492.55 L368.70,493.11 L369.53,493.67 L370.36,494.23 L371.19,494.79 L372.01,495.35 L372.84,495.91 L373.67,496.47 L374.50,497.03 L375.33,497.59 L376.15,498.15 L376.98,498.71 L377.81,499.27 L378.64,499.83 L379.47,500.39 L380.30,500.94 L381.13,501.50 L381.96,502.06 L382.79,502.62 L383.62,503.17 L384.45,503.73 L385.28,504.29 L386.11,504.84 L386.94,505.40 L387.77,505.96 L388.60,506.51 L389.43,507.07 L390.26,507.63 L391.09,508.18 L391.92,508.74 L392.75,509.30 L393.58,509.85 L394.41,510.41 L395.23,510.97 L396.06,511.53 L396.89,512.09 L397.72,512.65 L398.55,513.20 L399.37,513.76 L400.20,514.32 L401.03,514.89 L401.85,515.45 L402.68,516.01 L403.50,516.57 L404.33,517.14 L405.15,517.70 L405.97,518.26 L406.80,518.83 L407.62,519.39 L408.44,519.96 L409.26,520.53 L410.08,521.10 L410.90,521.66 L411.72,522.23 L412.54,522.80 L413.36,523.37 L414.18,523.94 L415.00,524.51 L415.82,525.08 L416.63,525.65 L417.45,526.23 L418.27,526.80 L419.08,527.37 L419.90,527.94 L420.71,528.52 L421.53,529.09 L422.34,529.67 L423.15,530.24 L423.97,530.82 L424.78,531.40 L425.59,531.98 L426.40,532.55 L427.21,533.13 L428.02,533.71 L428.83,534.30 L429.64,534.88 L430.45,535.46 L431.25,536.04 L432.06,536.63 L432.87,537.21 L433.67,537.80 L434.48,538.38 L435.28,538.97 L436.09,539.55 L436.89,540.14 L437.70,540.72 L438.50,541.31 L439.31,541.89 L440.11,542.47 L440.92,543.06 L441.73,543.64 L442.54,544.21 L443.35,544.79 L444.16,545.37 L444.97,545.94 L445.79,546.51 L446.61,547.08 L447.42,547.64 L448.25,548.21 L449.07,548.77 L449.89,549.33 L450.72,549.88 L451.55,550.43 L452.38,550.98 L453.21,551.53 L454.04,552.07 L454.88,552.61 L455.72,553.15 L456.56,553.68 L457.40,554.21 L458.25,554.74 L459.09,555.26 L459.94,555.78 L460.80,556.30 L461.65,556.81 L462.51,557.32 L463.36,557.83 L464.22,558.33 L465.09,558.83 L465.95,559.33 L466.82,559.82 L467.69,560.31 L468.56,560.80 L469.43,561.28 L470.30,561.76 L471.18,562.24 L472.06,562.72 L472.94,563.19 L473.82,563.66 L474.70,564.12 L475.59,564.59 L476.47,565.05 L477.36,565.51 L478.25,565.96 L479.14,566.42 L480.03,566.87 L480.92,567.32 L481.82,567.76 L482.71,568.21 L483.61,568.65 L484.51,569.09 L485.41,569.53 L486.31,569.96 L487.21,570.39 L488.11,570.82 L489.02,571.25 L489.92,571.68 L490.83,572.10 L491.73,572.53 L492.64,572.95 L493.55,573.36 L494.46,573.78 L495.37,574.19 L496.28,574.61 L497.19,575.01 L498.11,575.42 L499.02,575.83 L499.94,576.23 L500.85,576.63 L501.77,577.03 L502.69,577.43 L503.61,577.82 L504.53,578.21 L505.45,578.60 L506.37,578.99 L507.29,579.37 L508.22,579.75 L509.14,580.13 L510.07,580.51 L510.99,580.88 L511.92,581.25 L512.85,581.62 L513.78,581.98 L514.71,582.35 L515.65,582.71 L516.58,583.06 L517.51,583.42 L518.45,583.77 L519.39,584.11 L520.32,584.46 L521.26,584.80 L522.20,585.14 L523.14,585.48 L524.08,585.81 L525.03,586.14 L525.97,586.47 L526.92,586.79 L527.86,587.11 L528.81,587.43 L529.76,587.75 L530.70,588.06 L531.65,588.38 L532.60,588.68 L533.56,588.99 L534.51,589.29 L535.46,589.59 L536.41,589.89 L537.37,590.19 L538.32,590.48 L539.28,590.77 L540.24,591.06 L541.19,591.35 L542.15,591.63 L543.11,591.91 L544.07,592.19 L545.03,592.46 L545.99,592.74 L546.96,593.01 L547.92,593.28 L548.88,593.54 L549.85,593.81 L550.81,594.07 L551.78,594.33 L552.74,594.59 L553.71,594.84 L554.67,595.09 L555.64,595.34 L556.61,595.59 L557.58,595.84 L558.55,596.08 L559.52,596.32 L560.49,596.56 L561.46,596.80 L562.43,597.03 L563.40,597.27 L564.38,597.50 L565.35,597.73 L566.32,597.95 L567.30,598.18 L568.27,598.40 L569.25,598.62 L570.22,598.84 L571.20,599.06 L572.17,599.27 L573.15,599.49 L574.13,599.70 L575.11,599.91 L576.08,600.11 L577.06,600.32 L578.04,600.52 L579.02,600.73 L580.00,600.93 L580.98,601.12 L581.96,601.32 L582.94,601.52 L583.92,601.71 L584.90,601.90 L585.89,602.09 L586.87,602.28 L587.85,602.47 L588.83,602.65 L589.82,602.84 L590.80,603.02 L591.78,603.20 L592.77,603.38 L593.75,603.56 L594.73,603.74 L595.72,603.91 L596.70,604.09 L597.69,604.26 L598.67,604.43 L599.66,604.60 L600.64,604.77 L601.63,604.94 L602.62,605.10 L603.60,605.27 L604.59,605.43 L605.58,605.59 L606.56,605.75 L607.55,605.91 L608.54,606.07 L609.52,606.23 L610.51,606.38 L611.50,606.54 L612.49,606.69 L613.48,606.84 L614.47,606.99 L615.45,607.14 L616.44,607.29 L617.43,607.44 L618.42,607.58 L619.41,607.73 L620.40,607.87 L621.39,608.01 L622.38,608.15 L623.37,608.29 L624.36,608.42 L625.35,608.56 L626.34,608.69 L627.33,608.83 L628.32,608.96 L629.31,609.09 L630.30,609.22 L631.30,609.34 L632.29,609.47 L633.28,609.59 L634.27,609.71 L635.26,609.83 L636.26,609.95 L637.25,610.06 L638.24,610.18 L639.23,610.29 L640.23,610.40 L641.22,610.51 L642.21,610.62 L643.21,610.72 L644.20,610.83 L645.20,610.93 L646.19,611.03 L647.18,611.13 L648.18,611.23 L649.17,611.32 L650.17,611.42 L651.16,611.51 L652.16,611.60 L653.15,611.69 L654.15,611.77 L655.15,611.86 L656.14,611.94 L657.14,612.03 L658.13,612.11 L659.13,612.19 L660.13,612.26 L661.12,612.34 L662.12,612.42 L663.12,612.49 L664.11,612.56 L665.11,612.63 L666.11,612.70 L667.10,612.77 L668.10,612.83 L669.10,612.90 L670.10,612.96 L671.09,613.02 L672.09,613.09 L673.09,613.15 L674.09,613.20 L675.09,613.26 L676.08,613.32 L677.08,613.37 L678.08,613.42 L679.08,613.48 L680.08,613.53 L681.07,613.58 L682.07,613.63 L683.07,613.68 L684.07,613.72 L685.07,613.77 L686.07,613.82 L687.07,613.86 L688.06,613.90 L689.06,613.95 L690.06,613.99 L691.06,614.03 L692.06,614.07 L693.06,614.11 L694.06,614.15 L695.06,614.18 L696.06,614.22 L697.05,614.26 L698.05,614.29 L699.05,614.33 L700.05,614.36 L701.05,614.39 L702.05,614.43 L703.05,614.46 L704.05,614.49 L705.05,614.52 L706.05,614.55 L707.05,614.58 L708.05,614.61 L709.05,614.63 L710.05,614.66 L711.04,614.69 L712.04,614.71 L713.04,614.74 L714.04,614.76 L715.04,614.79 L716.04,614.81 L717.04,614.83 L718.04,614.86 L719.04,614.88 L720.04,614.90 L721.04,614.92 L722.04,614.94 L723.04,614.96 L724.04,614.98 L725.04,615.00 L726.04,615.02 L727.04,615.04 L728.04,615.05 L729.04,615.07 L730.04,615.09 L731.03,615.10 L732.03,615.12 L733.03,615.14 L734.03,615.15 L735.03,615.17 L736.03,615.18 L737.03,615.20 L738.03,615.21 L739.03,615.22 L740.03,615.24 L741.03,615.25 L742.03,615.26 L743.03,615.27 L744.03,615.29 L745.03,615.30 L746.03,615.31 L747.03,615.32 L748.03,615.33 L749.03,615.34 L750.03,615.35 L751.03,615.36 L752.03,615.37 L753.03,615.38 L754.03,615.39 L755.03,615.40 L756.03,615.41 L757.03,615.42 L758.03,615.42 L759.02,615.43 L760.02,615.44 L761.02,615.45 L762.02,615.45 L763.02,615.46 L764.02,615.47 L765.02,615.47 L766.02,615.48 L767.02,615.48 L768.02,615.49 L769.02,615.49 L770.02,615.50 L771.02,615.50 L772.02,615.51 L773.02,615.51 L774.02,615.52 L775.02,615.52 L776.02,615.52 L777.02,615.53 L778.02,615.53 L779.02,615.53 L780.02,615.53 L781.02,615.54 L782.02,615.54 L783.02,615.54 L784.02,615.54 L785.02,615.55 L786.02,615.55 L787.02,615.55 L788.01,615.55 L789.01,615.55 L790.01,615.55 L791.01,615.55 L792.01,615.55 L793.01,615.55 L794.01,615.55 L795.01,615.55 L796.01,615.55 L797.01,615.55 L798.01,615.55 L799.01,615.55 L800.01,615.55 L801.01,615.55 L802.01,615.55 L803.01,615.55 L804.01,615.55 L805.01,615.55 L806.01,615.55 L807.01,615.55 L808.01,615.55 L809.01,615.54 L810.01,615.54 L811.01,615.54 L812.01,615.54 L813.01,615.54 L814.01,615.54 L815.01,615.53 L816.01,615.53 L817.00,615.53 L818.00,615.53 L819.00,615.53 L820.00,615.52 L821.00,615.52 L822.00,615.52 L823.00,615.52 L824.00,615.52 L825.00,615.51 L826.00,615.51 L827.00,615.51 L828.00,615.51 L829.00,615.50 L830.00,615.50 L831.00,615.50"/>
</g>
<g stroke="#555555" stroke-width="1.67"><line x1="154.00" y1="640.8" x2="154.00" y2="648.09"/><line x1="289.40" y1="640.8" x2="289.40" y2="648.09"/><line x1="424.80" y1="640.8" x2="424.80" y2="648.09"/><line x1="560.20" y1="640.8" x2="560.20" y2="648.09"/><line x1="695.60" y1="640.8" x2="695.60" y2="648.09"/><line x1="831.00" y1="640.8" x2="831.00" y2="648.09"/><line x1="112.86" y1="615.50" x2="120.15" y2="615.50"/><line x1="112.86" y1="501.62" x2="120.15" y2="501.62"/><line x1="112.86" y1="387.75" x2="120.15" y2="387.75"/><line x1="112.86" y1="273.88" x2="120.15" y2="273.88"/><line x1="112.86" y1="160.00" x2="120.15" y2="160.00"/></g>
<rect x="120.15" y="86.0" width="743.85" height="554.80" fill="none" stroke="#fff" stroke-width="2.08"/>
<g fill="#555555" font-size="21.3"><text x="154.00" y="671" text-anchor="middle" textLength="13.25" lengthAdjust="spacingAndGlyphs">0</text><text x="289.40" y="671" text-anchor="middle" textLength="66.24" lengthAdjust="spacingAndGlyphs">20000</text><text x="424.80" y="671" text-anchor="middle" textLength="66.24" lengthAdjust="spacingAndGlyphs">40000</text><text x="560.20" y="671" text-anchor="middle" textLength="66.24" lengthAdjust="spacingAndGlyphs">60000</text><text x="695.60" y="671" text-anchor="middle" textLength="66.24" lengthAdjust="spacingAndGlyphs">80000</text><text x="831.00" y="671" text-anchor="middle" textLength="79.49" lengthAdjust="spacingAndGlyphs">100000</text><text x="105.60" y="623.10" text-anchor="end" textLength="13.25" lengthAdjust="spacingAndGlyphs">0</text><text x="105.60" y="509.23" text-anchor="end" textLength="52.99" lengthAdjust="spacingAndGlyphs">1000</text><text x="105.60" y="395.35" text-anchor="end" textLength="52.99" lengthAdjust="spacingAndGlyphs">2000</text><text x="105.60" y="281.48" text-anchor="end" textLength="52.99" lengthAdjust="spacingAndGlyphs">3000</text><text x="105.60" y="167.60" text-anchor="end" textLength="52.99" lengthAdjust="spacingAndGlyphs">4000</text></g>
<text x="491" y="701.5" text-anchor="middle" font-size="25.5" fill="#555555" textLength="96" lengthAdjust="spacingAndGlyphs">time (s)</text>
<text transform="translate(37.5,365.5) rotate(-90)" x="0" y="0" text-anchor="middle" font-size="25.5" fill="#555555" textLength="101" lengthAdjust="spacingAndGlyphs">time (s)</text>
<text x="491.4" y="72.8" text-anchor="middle" font-size="30.5" fill="#000" textLength="486" lengthAdjust="spacingAndGlyphs">Persistence Silhouette Functions</text>
<rect x="599.6" y="97" width="254.0" height="188.8" rx="4" ry="4" fill="#E5E5E5" fill-opacity="0.8" stroke="#CCCCCC" stroke-opacity="0.8" stroke-width="1.67"/>
<line x1="606" y1="113.9" x2="651" y2="113.9" stroke="#FF0000" stroke-width="4.17"/>
<text x="666.3" y="120.0" font-size="21.3" fill="#000" textLength="18.5" lengthAdjust="spacingAndGlyphs">f1</text>
<line x1="606" y1="144.2" x2="651" y2="144.2" stroke="#0000FF" stroke-width="4.17"/>
<text x="666.3" y="150.3" font-size="21.3" fill="#000" textLength="178.2" lengthAdjust="spacingAndGlyphs">mariliaMendonca</text>
<line x1="606" y1="174.6" x2="651" y2="174.6" stroke="#FFD700" stroke-width="4.17"/>
<text x="666.3" y="180.7" font-size="21.3" fill="#000" textLength="76.7" lengthAdjust="spacingAndGlyphs">football</text>
<line x1="606" y1="205.0" x2="651" y2="205.0" stroke="#006400" stroke-width="4.17"/>
<text x="666.3" y="211.1" font-size="21.3" fill="#000" textLength="40.1" lengthAdjust="spacingAndGlyphs">onu</text>
<line x1="606" y1="235.5" x2="651" y2="235.5" stroke="#800080" stroke-width="4.17"/>
<text x="666.3" y="241.6" font-size="21.3" fill="#000" textLength="156.2" lengthAdjust="spacingAndGlyphs">mitoVisitaPutin</text>
<line x1="606" y1="266.0" x2="651" y2="266.0" stroke="#D2691E" stroke-width="4.17"/>
<text x="666.3" y="272.1" font-size="21.3" fill="#000" textLength="102.1" lengthAdjust="spacingAndGlyphs">politicsAR</text>
</svg></body></html>
